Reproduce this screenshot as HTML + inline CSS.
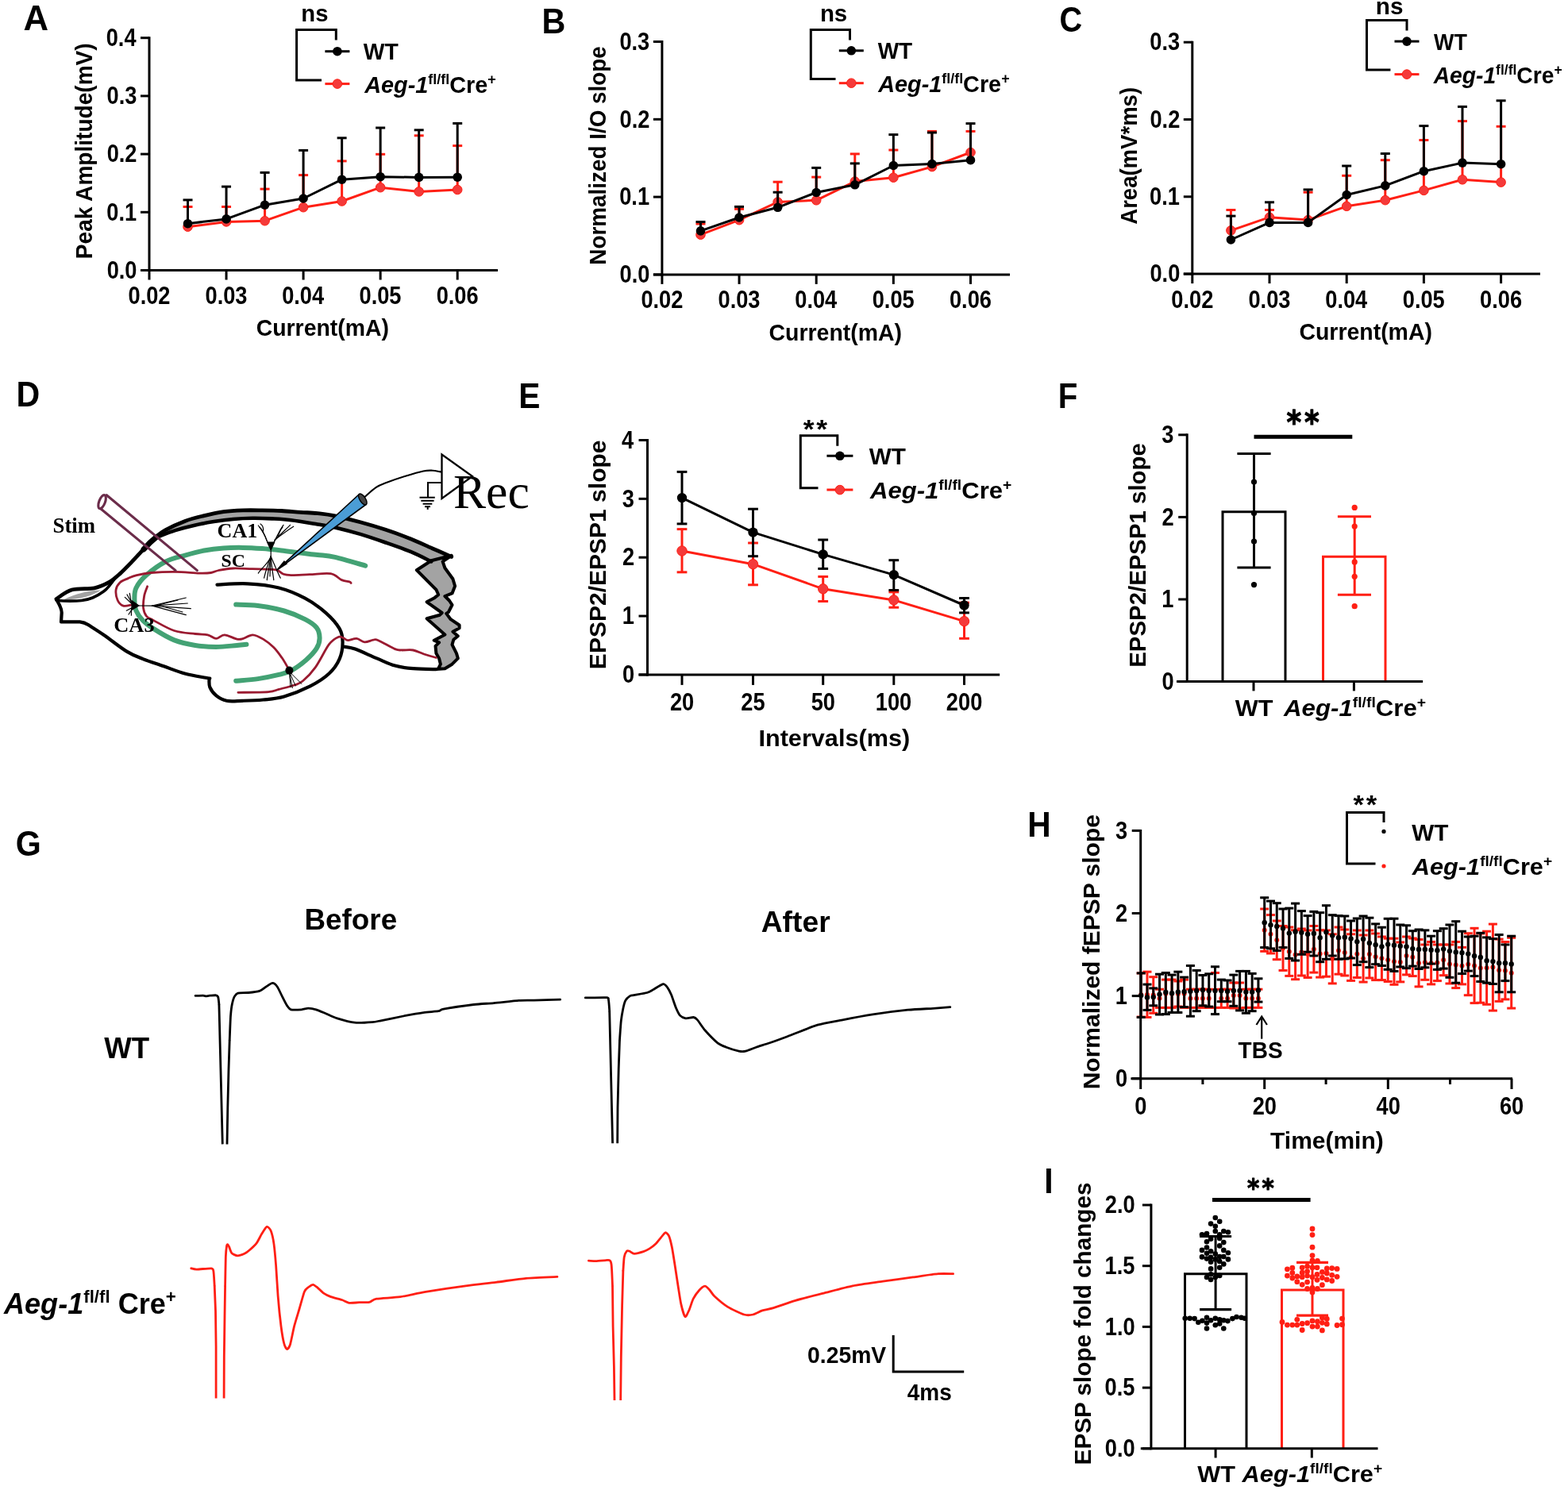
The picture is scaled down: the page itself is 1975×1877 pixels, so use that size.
<!DOCTYPE html><html><head><meta charset="utf-8"><style>html,body{margin:0;padding:0;background:#fff;}svg{display:block;}text{font-variant-ligatures:none;font-kerning:normal;}</style></head><body><svg xmlns="http://www.w3.org/2000/svg" width="1975" height="1877" viewBox="0 0 1975 1877"><rect x="0" y="0" width="1975" height="1877" fill="#fff"/>
<text transform="translate(29.51,38.10) scale(1.0053,1)" font-size="43.50" fill="#000" font-family="'Liberation Sans', Arial, sans-serif" font-weight="bold">A</text>
<text transform="translate(682.41,41.50) scale(0.9497,1)" font-size="43.50" fill="#000" font-family="'Liberation Sans', Arial, sans-serif" font-weight="bold">B</text>
<text transform="translate(1334.51,40.30) scale(0.9125,1)" font-size="43.50" fill="#000" font-family="'Liberation Sans', Arial, sans-serif" font-weight="bold">C</text>
<text transform="translate(20.42,511.90) scale(0.9458,1)" font-size="43.50" fill="#000" font-family="'Liberation Sans', Arial, sans-serif" font-weight="bold">D</text>
<text transform="translate(653.25,513.80) scale(0.9360,1)" font-size="43.50" fill="#000" font-family="'Liberation Sans', Arial, sans-serif" font-weight="bold">E</text>
<text transform="translate(1332.79,513.80) scale(0.9241,1)" font-size="43.50" fill="#000" font-family="'Liberation Sans', Arial, sans-serif" font-weight="bold">F</text>
<text transform="translate(19.75,1078.20) scale(0.9468,1)" font-size="43.50" fill="#000" font-family="'Liberation Sans', Arial, sans-serif" font-weight="bold">G</text>
<text transform="translate(1294.25,1053.80) scale(0.9352,1)" font-size="43.50" fill="#000" font-family="'Liberation Sans', Arial, sans-serif" font-weight="bold">H</text>
<text transform="translate(1315.15,1502.70) scale(0.9357,1)" font-size="43.50" fill="#000" font-family="'Liberation Sans', Arial, sans-serif" font-weight="bold">I</text>
<line x1="236.53" y1="285.7" x2="236.53" y2="260.5" stroke="#ff1f14" stroke-width="3" stroke-linecap="butt"/>
<line x1="230.53" y1="260.5" x2="242.53" y2="260.5" stroke="#ff1f14" stroke-width="3" stroke-linecap="butt"/>
<line x1="285.05" y1="279.4" x2="285.05" y2="260.5" stroke="#ff1f14" stroke-width="3" stroke-linecap="butt"/>
<line x1="279.05" y1="260.5" x2="291.05" y2="260.5" stroke="#ff1f14" stroke-width="3" stroke-linecap="butt"/>
<line x1="333.57" y1="278.2" x2="333.57" y2="238.1" stroke="#ff1f14" stroke-width="3" stroke-linecap="butt"/>
<line x1="327.57" y1="238.1" x2="339.57" y2="238.1" stroke="#ff1f14" stroke-width="3" stroke-linecap="butt"/>
<line x1="382.1" y1="261.2" x2="382.1" y2="220.6" stroke="#ff1f14" stroke-width="3" stroke-linecap="butt"/>
<line x1="376.1" y1="220.6" x2="388.1" y2="220.6" stroke="#ff1f14" stroke-width="3" stroke-linecap="butt"/>
<line x1="430.62" y1="253.5" x2="430.62" y2="202.9" stroke="#ff1f14" stroke-width="3" stroke-linecap="butt"/>
<line x1="424.62" y1="202.9" x2="436.62" y2="202.9" stroke="#ff1f14" stroke-width="3" stroke-linecap="butt"/>
<line x1="479.15" y1="236.2" x2="479.15" y2="194.3" stroke="#ff1f14" stroke-width="3" stroke-linecap="butt"/>
<line x1="473.15" y1="194.3" x2="485.15" y2="194.3" stroke="#ff1f14" stroke-width="3" stroke-linecap="butt"/>
<line x1="527.67" y1="241.4" x2="527.67" y2="170.8" stroke="#ff1f14" stroke-width="3" stroke-linecap="butt"/>
<line x1="521.67" y1="170.8" x2="533.67" y2="170.8" stroke="#ff1f14" stroke-width="3" stroke-linecap="butt"/>
<line x1="576.2" y1="239" x2="576.2" y2="183.6" stroke="#ff1f14" stroke-width="3" stroke-linecap="butt"/>
<line x1="570.2" y1="183.6" x2="582.2" y2="183.6" stroke="#ff1f14" stroke-width="3" stroke-linecap="butt"/>
<polyline points="236.53,285.7 285.05,279.4 333.57,278.2 382.1,261.2 430.62,253.5 479.15,236.2 527.67,241.4 576.2,239" fill="none" stroke="#ff1f14" stroke-width="3" stroke-linejoin="round"/>
<circle cx="236.53" cy="285.7" r="5.8" fill="#f43a3a" stroke="#ff1f14" stroke-width="1"/>
<circle cx="285.05" cy="279.4" r="5.8" fill="#f43a3a" stroke="#ff1f14" stroke-width="1"/>
<circle cx="333.57" cy="278.2" r="5.8" fill="#f43a3a" stroke="#ff1f14" stroke-width="1"/>
<circle cx="382.1" cy="261.2" r="5.8" fill="#f43a3a" stroke="#ff1f14" stroke-width="1"/>
<circle cx="430.62" cy="253.5" r="5.8" fill="#f43a3a" stroke="#ff1f14" stroke-width="1"/>
<circle cx="479.15" cy="236.2" r="5.8" fill="#f43a3a" stroke="#ff1f14" stroke-width="1"/>
<circle cx="527.67" cy="241.4" r="5.8" fill="#f43a3a" stroke="#ff1f14" stroke-width="1"/>
<circle cx="576.2" cy="239" r="5.8" fill="#f43a3a" stroke="#ff1f14" stroke-width="1"/>
<line x1="236.53" y1="281.7" x2="236.53" y2="251.9" stroke="#000" stroke-width="3" stroke-linecap="butt"/>
<line x1="230.53" y1="251.9" x2="242.53" y2="251.9" stroke="#000" stroke-width="3" stroke-linecap="butt"/>
<line x1="285.05" y1="275.9" x2="285.05" y2="235.1" stroke="#000" stroke-width="3" stroke-linecap="butt"/>
<line x1="279.05" y1="235.1" x2="291.05" y2="235.1" stroke="#000" stroke-width="3" stroke-linecap="butt"/>
<line x1="333.57" y1="258.2" x2="333.57" y2="217.4" stroke="#000" stroke-width="3" stroke-linecap="butt"/>
<line x1="327.57" y1="217.4" x2="339.57" y2="217.4" stroke="#000" stroke-width="3" stroke-linecap="butt"/>
<line x1="382.1" y1="250" x2="382.1" y2="189.4" stroke="#000" stroke-width="3" stroke-linecap="butt"/>
<line x1="376.1" y1="189.4" x2="388.1" y2="189.4" stroke="#000" stroke-width="3" stroke-linecap="butt"/>
<line x1="430.62" y1="226.2" x2="430.62" y2="173.8" stroke="#000" stroke-width="3" stroke-linecap="butt"/>
<line x1="424.62" y1="173.8" x2="436.62" y2="173.8" stroke="#000" stroke-width="3" stroke-linecap="butt"/>
<line x1="479.15" y1="222.7" x2="479.15" y2="161" stroke="#000" stroke-width="3" stroke-linecap="butt"/>
<line x1="473.15" y1="161" x2="485.15" y2="161" stroke="#000" stroke-width="3" stroke-linecap="butt"/>
<line x1="527.67" y1="223.4" x2="527.67" y2="163.8" stroke="#000" stroke-width="3" stroke-linecap="butt"/>
<line x1="521.67" y1="163.8" x2="533.67" y2="163.8" stroke="#000" stroke-width="3" stroke-linecap="butt"/>
<line x1="576.2" y1="223.2" x2="576.2" y2="155.4" stroke="#000" stroke-width="3" stroke-linecap="butt"/>
<line x1="570.2" y1="155.4" x2="582.2" y2="155.4" stroke="#000" stroke-width="3" stroke-linecap="butt"/>
<polyline points="236.53,281.7 285.05,275.9 333.57,258.2 382.1,250 430.62,226.2 479.15,222.7 527.67,223.4 576.2,223.2" fill="none" stroke="#000" stroke-width="3" stroke-linejoin="round"/>
<circle cx="236.53" cy="281.7" r="5.8" fill="#000"/>
<circle cx="285.05" cy="275.9" r="5.8" fill="#000"/>
<circle cx="333.57" cy="258.2" r="5.8" fill="#000"/>
<circle cx="382.1" cy="250" r="5.8" fill="#000"/>
<circle cx="430.62" cy="226.2" r="5.8" fill="#000"/>
<circle cx="479.15" cy="222.7" r="5.8" fill="#000"/>
<circle cx="527.67" cy="223.4" r="5.8" fill="#000"/>
<circle cx="576.2" cy="223.2" r="5.8" fill="#000"/>
<line x1="188" y1="46.2" x2="188" y2="342" stroke="#000" stroke-width="3" stroke-linecap="butt"/>
<line x1="177" y1="340.5" x2="188" y2="340.5" stroke="#000" stroke-width="3" stroke-linecap="butt"/>
<line x1="177" y1="267.3" x2="188" y2="267.3" stroke="#000" stroke-width="3" stroke-linecap="butt"/>
<line x1="177" y1="194.1" x2="188" y2="194.1" stroke="#000" stroke-width="3" stroke-linecap="butt"/>
<line x1="177" y1="120.9" x2="188" y2="120.9" stroke="#000" stroke-width="3" stroke-linecap="butt"/>
<line x1="177" y1="47.7" x2="188" y2="47.7" stroke="#000" stroke-width="3" stroke-linecap="butt"/>
<line x1="177" y1="340.5" x2="627" y2="340.5" stroke="#000" stroke-width="3" stroke-linecap="butt"/>
<line x1="188" y1="340.5" x2="188" y2="352.5" stroke="#000" stroke-width="3" stroke-linecap="butt"/>
<line x1="285.05" y1="340.5" x2="285.05" y2="352.5" stroke="#000" stroke-width="3" stroke-linecap="butt"/>
<line x1="382.1" y1="340.5" x2="382.1" y2="352.5" stroke="#000" stroke-width="3" stroke-linecap="butt"/>
<line x1="479.15" y1="340.5" x2="479.15" y2="352.5" stroke="#000" stroke-width="3" stroke-linecap="butt"/>
<line x1="576.2" y1="340.5" x2="576.2" y2="352.5" stroke="#000" stroke-width="3" stroke-linecap="butt"/>
<text transform="translate(134.63,350.70) scale(0.8900,1)" font-size="30.60" fill="#000" font-family="'Liberation Sans', Arial, sans-serif" font-weight="bold">0.0</text>
<text transform="translate(134.29,277.50) scale(0.8900,1)" font-size="30.60" fill="#000" font-family="'Liberation Sans', Arial, sans-serif" font-weight="bold">0.1</text>
<text transform="translate(134.63,204.30) scale(0.8900,1)" font-size="30.60" fill="#000" font-family="'Liberation Sans', Arial, sans-serif" font-weight="bold">0.2</text>
<text transform="translate(134.50,131.10) scale(0.8900,1)" font-size="30.60" fill="#000" font-family="'Liberation Sans', Arial, sans-serif" font-weight="bold">0.3</text>
<text transform="translate(133.68,57.90) scale(0.8900,1)" font-size="30.60" fill="#000" font-family="'Liberation Sans', Arial, sans-serif" font-weight="bold">0.4</text>
<text transform="translate(161.51,383.00) scale(0.8900,1)" font-size="30.60" fill="#000" font-family="'Liberation Sans', Arial, sans-serif" font-weight="bold">0.02</text>
<text transform="translate(258.50,383.00) scale(0.8900,1)" font-size="30.60" fill="#000" font-family="'Liberation Sans', Arial, sans-serif" font-weight="bold">0.03</text>
<text transform="translate(355.14,383.00) scale(0.8900,1)" font-size="30.60" fill="#000" font-family="'Liberation Sans', Arial, sans-serif" font-weight="bold">0.04</text>
<text transform="translate(452.49,383.00) scale(0.8900,1)" font-size="30.60" fill="#000" font-family="'Liberation Sans', Arial, sans-serif" font-weight="bold">0.05</text>
<text transform="translate(549.65,383.00) scale(0.8900,1)" font-size="30.60" fill="#000" font-family="'Liberation Sans', Arial, sans-serif" font-weight="bold">0.06</text>
<text transform="translate(322.66,423.10) scale(0.9481,1)" font-size="30.00" fill="#000" font-family="'Liberation Sans', Arial, sans-serif" font-weight="bold">Current(mA)</text>
<text transform="translate(116.40,326.19) rotate(-90) scale(0.9356,1)" font-size="30.00" font-family="'Liberation Sans', Arial, sans-serif" font-weight="bold">Peak Amplitude(mV)</text>
<polyline points="405,100.9 373.6,100.9 373.6,37.6 423.3,37.6 423.3,50.6" fill="none" stroke="#000" stroke-width="3" stroke-linejoin="miter"/>
<line x1="409.4" y1="64.7" x2="440.4" y2="64.7" stroke="#000" stroke-width="3" stroke-linecap="butt"/>
<circle cx="424.9" cy="64.7" r="5.8" fill="#000"/>
<line x1="409.4" y1="105.6" x2="440.4" y2="105.6" stroke="#ff1f14" stroke-width="3" stroke-linecap="butt"/>
<circle cx="424.9" cy="105.6" r="5.8" fill="#f43a3a" stroke="#ff1f14" stroke-width="1"/>
<text transform="translate(379.30,26.70) scale(0.9748,1)" font-size="30.00" fill="#000" font-family="'Liberation Sans', Arial, sans-serif" font-weight="bold">ns</text>
<text transform="translate(457.73,75.20) scale(0.9444,1)" font-size="30.00" fill="#000" font-family="'Liberation Sans', Arial, sans-serif" font-weight="bold">WT</text>
<text transform="translate(459.18,116.60) scale(0.9618,1)" font-size="30.00" fill="#000"><tspan font-family="'Liberation Sans', Arial, sans-serif" font-weight="bold" font-style="italic">Aeg-1</tspan><tspan font-family="'Liberation Sans', Arial, sans-serif" font-weight="bold" font-size="18.60" dy="-11.10">fl/fl</tspan><tspan font-family="'Liberation Sans', Arial, sans-serif" font-weight="bold" dy="11.10">Cre</tspan><tspan font-family="'Liberation Sans', Arial, sans-serif" font-weight="bold" font-size="18.60" dy="-11.10">+</tspan></text>
<line x1="882.48" y1="295.7" x2="882.48" y2="282" stroke="#ff1f14" stroke-width="3" stroke-linecap="butt"/>
<line x1="876.48" y1="282" x2="888.48" y2="282" stroke="#ff1f14" stroke-width="3" stroke-linecap="butt"/>
<line x1="931.05" y1="277.2" x2="931.05" y2="263.3" stroke="#ff1f14" stroke-width="3" stroke-linecap="butt"/>
<line x1="925.05" y1="263.3" x2="937.05" y2="263.3" stroke="#ff1f14" stroke-width="3" stroke-linecap="butt"/>
<line x1="979.62" y1="254.5" x2="979.62" y2="229.2" stroke="#ff1f14" stroke-width="3" stroke-linecap="butt"/>
<line x1="973.62" y1="229.2" x2="985.62" y2="229.2" stroke="#ff1f14" stroke-width="3" stroke-linecap="butt"/>
<line x1="1028.2" y1="252.3" x2="1028.2" y2="223.1" stroke="#ff1f14" stroke-width="3" stroke-linecap="butt"/>
<line x1="1022.2" y1="223.1" x2="1034.2" y2="223.1" stroke="#ff1f14" stroke-width="3" stroke-linecap="butt"/>
<line x1="1076.78" y1="228.6" x2="1076.78" y2="193.9" stroke="#ff1f14" stroke-width="3" stroke-linecap="butt"/>
<line x1="1070.78" y1="193.9" x2="1082.78" y2="193.9" stroke="#ff1f14" stroke-width="3" stroke-linecap="butt"/>
<line x1="1125.35" y1="223.7" x2="1125.35" y2="189" stroke="#ff1f14" stroke-width="3" stroke-linecap="butt"/>
<line x1="1119.35" y1="189" x2="1131.35" y2="189" stroke="#ff1f14" stroke-width="3" stroke-linecap="butt"/>
<line x1="1173.92" y1="210.1" x2="1173.92" y2="165.4" stroke="#ff1f14" stroke-width="3" stroke-linecap="butt"/>
<line x1="1167.92" y1="165.4" x2="1179.92" y2="165.4" stroke="#ff1f14" stroke-width="3" stroke-linecap="butt"/>
<line x1="1222.5" y1="192" x2="1222.5" y2="165.4" stroke="#ff1f14" stroke-width="3" stroke-linecap="butt"/>
<line x1="1216.5" y1="165.4" x2="1228.5" y2="165.4" stroke="#ff1f14" stroke-width="3" stroke-linecap="butt"/>
<polyline points="882.48,295.7 931.05,277.2 979.62,254.5 1028.2,252.3 1076.78,228.6 1125.35,223.7 1173.92,210.1 1222.5,192" fill="none" stroke="#ff1f14" stroke-width="3" stroke-linejoin="round"/>
<circle cx="882.48" cy="295.7" r="5.8" fill="#f43a3a" stroke="#ff1f14" stroke-width="1"/>
<circle cx="931.05" cy="277.2" r="5.8" fill="#f43a3a" stroke="#ff1f14" stroke-width="1"/>
<circle cx="979.62" cy="254.5" r="5.8" fill="#f43a3a" stroke="#ff1f14" stroke-width="1"/>
<circle cx="1028.2" cy="252.3" r="5.8" fill="#f43a3a" stroke="#ff1f14" stroke-width="1"/>
<circle cx="1076.78" cy="228.6" r="5.8" fill="#f43a3a" stroke="#ff1f14" stroke-width="1"/>
<circle cx="1125.35" cy="223.7" r="5.8" fill="#f43a3a" stroke="#ff1f14" stroke-width="1"/>
<circle cx="1173.92" cy="210.1" r="5.8" fill="#f43a3a" stroke="#ff1f14" stroke-width="1"/>
<circle cx="1222.5" cy="192" r="5.8" fill="#f43a3a" stroke="#ff1f14" stroke-width="1"/>
<line x1="882.48" y1="290.9" x2="882.48" y2="279.5" stroke="#000" stroke-width="3" stroke-linecap="butt"/>
<line x1="876.48" y1="279.5" x2="888.48" y2="279.5" stroke="#000" stroke-width="3" stroke-linecap="butt"/>
<line x1="931.05" y1="274" x2="931.05" y2="260.4" stroke="#000" stroke-width="3" stroke-linecap="butt"/>
<line x1="925.05" y1="260.4" x2="937.05" y2="260.4" stroke="#000" stroke-width="3" stroke-linecap="butt"/>
<line x1="979.62" y1="261.3" x2="979.62" y2="242.2" stroke="#000" stroke-width="3" stroke-linecap="butt"/>
<line x1="973.62" y1="242.2" x2="985.62" y2="242.2" stroke="#000" stroke-width="3" stroke-linecap="butt"/>
<line x1="1028.2" y1="242.5" x2="1028.2" y2="211.4" stroke="#000" stroke-width="3" stroke-linecap="butt"/>
<line x1="1022.2" y1="211.4" x2="1034.2" y2="211.4" stroke="#000" stroke-width="3" stroke-linecap="butt"/>
<line x1="1076.78" y1="232.8" x2="1076.78" y2="205.9" stroke="#000" stroke-width="3" stroke-linecap="butt"/>
<line x1="1070.78" y1="205.9" x2="1082.78" y2="205.9" stroke="#000" stroke-width="3" stroke-linecap="butt"/>
<line x1="1125.35" y1="208.5" x2="1125.35" y2="169.6" stroke="#000" stroke-width="3" stroke-linecap="butt"/>
<line x1="1119.35" y1="169.6" x2="1131.35" y2="169.6" stroke="#000" stroke-width="3" stroke-linecap="butt"/>
<line x1="1173.92" y1="206.5" x2="1173.92" y2="167" stroke="#000" stroke-width="3" stroke-linecap="butt"/>
<line x1="1167.92" y1="167" x2="1179.92" y2="167" stroke="#000" stroke-width="3" stroke-linecap="butt"/>
<line x1="1222.5" y1="201.7" x2="1222.5" y2="155.6" stroke="#000" stroke-width="3" stroke-linecap="butt"/>
<line x1="1216.5" y1="155.6" x2="1228.5" y2="155.6" stroke="#000" stroke-width="3" stroke-linecap="butt"/>
<polyline points="882.48,290.9 931.05,274 979.62,261.3 1028.2,242.5 1076.78,232.8 1125.35,208.5 1173.92,206.5 1222.5,201.7" fill="none" stroke="#000" stroke-width="3" stroke-linejoin="round"/>
<circle cx="882.48" cy="290.9" r="5.8" fill="#000"/>
<circle cx="931.05" cy="274" r="5.8" fill="#000"/>
<circle cx="979.62" cy="261.3" r="5.8" fill="#000"/>
<circle cx="1028.2" cy="242.5" r="5.8" fill="#000"/>
<circle cx="1076.78" cy="232.8" r="5.8" fill="#000"/>
<circle cx="1125.35" cy="208.5" r="5.8" fill="#000"/>
<circle cx="1173.92" cy="206.5" r="5.8" fill="#000"/>
<circle cx="1222.5" cy="201.7" r="5.8" fill="#000"/>
<line x1="833.9" y1="51" x2="833.9" y2="347.4" stroke="#000" stroke-width="3" stroke-linecap="butt"/>
<line x1="822.9" y1="345.9" x2="833.9" y2="345.9" stroke="#000" stroke-width="3" stroke-linecap="butt"/>
<line x1="822.9" y1="248.1" x2="833.9" y2="248.1" stroke="#000" stroke-width="3" stroke-linecap="butt"/>
<line x1="822.9" y1="150.3" x2="833.9" y2="150.3" stroke="#000" stroke-width="3" stroke-linecap="butt"/>
<line x1="822.9" y1="52.5" x2="833.9" y2="52.5" stroke="#000" stroke-width="3" stroke-linecap="butt"/>
<line x1="822.9" y1="345.9" x2="1272" y2="345.9" stroke="#000" stroke-width="3" stroke-linecap="butt"/>
<line x1="833.9" y1="345.9" x2="833.9" y2="357.9" stroke="#000" stroke-width="3" stroke-linecap="butt"/>
<line x1="931.05" y1="345.9" x2="931.05" y2="357.9" stroke="#000" stroke-width="3" stroke-linecap="butt"/>
<line x1="1028.2" y1="345.9" x2="1028.2" y2="357.9" stroke="#000" stroke-width="3" stroke-linecap="butt"/>
<line x1="1125.35" y1="345.9" x2="1125.35" y2="357.9" stroke="#000" stroke-width="3" stroke-linecap="butt"/>
<line x1="1222.5" y1="345.9" x2="1222.5" y2="357.9" stroke="#000" stroke-width="3" stroke-linecap="butt"/>
<text transform="translate(780.53,356.10) scale(0.8900,1)" font-size="30.60" fill="#000" font-family="'Liberation Sans', Arial, sans-serif" font-weight="bold">0.0</text>
<text transform="translate(780.19,258.30) scale(0.8900,1)" font-size="30.60" fill="#000" font-family="'Liberation Sans', Arial, sans-serif" font-weight="bold">0.1</text>
<text transform="translate(780.53,160.50) scale(0.8900,1)" font-size="30.60" fill="#000" font-family="'Liberation Sans', Arial, sans-serif" font-weight="bold">0.2</text>
<text transform="translate(780.40,62.70) scale(0.8900,1)" font-size="30.60" fill="#000" font-family="'Liberation Sans', Arial, sans-serif" font-weight="bold">0.3</text>
<text transform="translate(807.41,388.40) scale(0.8900,1)" font-size="30.60" fill="#000" font-family="'Liberation Sans', Arial, sans-serif" font-weight="bold">0.02</text>
<text transform="translate(904.50,388.40) scale(0.8900,1)" font-size="30.60" fill="#000" font-family="'Liberation Sans', Arial, sans-serif" font-weight="bold">0.03</text>
<text transform="translate(1001.24,388.40) scale(0.8900,1)" font-size="30.60" fill="#000" font-family="'Liberation Sans', Arial, sans-serif" font-weight="bold">0.04</text>
<text transform="translate(1098.69,388.40) scale(0.8900,1)" font-size="30.60" fill="#000" font-family="'Liberation Sans', Arial, sans-serif" font-weight="bold">0.05</text>
<text transform="translate(1195.95,388.40) scale(0.8900,1)" font-size="30.60" fill="#000" font-family="'Liberation Sans', Arial, sans-serif" font-weight="bold">0.06</text>
<text transform="translate(968.56,428.50) scale(0.9481,1)" font-size="30.00" fill="#000" font-family="'Liberation Sans', Arial, sans-serif" font-weight="bold">Current(mA)</text>
<text transform="translate(763.40,333.68) rotate(-90) scale(0.9288,1)" font-size="30.00" font-family="'Liberation Sans', Arial, sans-serif" font-weight="bold">Normalized I/O slope</text>
<polyline points="1052.5,99.4 1021.3,99.4 1021.3,37.6 1070.5,37.6 1070.5,50.6" fill="none" stroke="#000" stroke-width="3" stroke-linejoin="miter"/>
<line x1="1056.8" y1="63.8" x2="1087.8" y2="63.8" stroke="#000" stroke-width="3" stroke-linecap="butt"/>
<circle cx="1072.3" cy="63.8" r="5.8" fill="#000"/>
<line x1="1056.8" y1="104.7" x2="1087.8" y2="104.7" stroke="#ff1f14" stroke-width="3" stroke-linecap="butt"/>
<circle cx="1072.3" cy="104.7" r="5.8" fill="#f43a3a" stroke="#ff1f14" stroke-width="1"/>
<text transform="translate(1032.89,27.00) scale(0.9811,1)" font-size="30.00" fill="#000" font-family="'Liberation Sans', Arial, sans-serif" font-weight="bold">ns</text>
<text transform="translate(1105.63,74.30) scale(0.9335,1)" font-size="30.00" fill="#000" font-family="'Liberation Sans', Arial, sans-serif" font-weight="bold">WT</text>
<text transform="translate(1106.28,115.70) scale(0.9606,1)" font-size="30.00" fill="#000"><tspan font-family="'Liberation Sans', Arial, sans-serif" font-weight="bold" font-style="italic">Aeg-1</tspan><tspan font-family="'Liberation Sans', Arial, sans-serif" font-weight="bold" font-size="18.60" dy="-11.10">fl/fl</tspan><tspan font-family="'Liberation Sans', Arial, sans-serif" font-weight="bold" dy="11.10">Cre</tspan><tspan font-family="'Liberation Sans', Arial, sans-serif" font-weight="bold" font-size="18.60" dy="-11.10">+</tspan></text>
<line x1="1550.4" y1="290.3" x2="1550.4" y2="264.5" stroke="#ff1f14" stroke-width="3" stroke-linecap="butt"/>
<line x1="1544.4" y1="264.5" x2="1556.4" y2="264.5" stroke="#ff1f14" stroke-width="3" stroke-linecap="butt"/>
<line x1="1599" y1="273.7" x2="1599" y2="264.5" stroke="#ff1f14" stroke-width="3" stroke-linecap="butt"/>
<line x1="1593" y1="264.5" x2="1605" y2="264.5" stroke="#ff1f14" stroke-width="3" stroke-linecap="butt"/>
<line x1="1647.6" y1="277.1" x2="1647.6" y2="242.2" stroke="#ff1f14" stroke-width="3" stroke-linecap="butt"/>
<line x1="1641.6" y1="242.2" x2="1653.6" y2="242.2" stroke="#ff1f14" stroke-width="3" stroke-linecap="butt"/>
<line x1="1696.2" y1="259.8" x2="1696.2" y2="221.3" stroke="#ff1f14" stroke-width="3" stroke-linecap="butt"/>
<line x1="1690.2" y1="221.3" x2="1702.2" y2="221.3" stroke="#ff1f14" stroke-width="3" stroke-linecap="butt"/>
<line x1="1744.8" y1="252.2" x2="1744.8" y2="201.7" stroke="#ff1f14" stroke-width="3" stroke-linecap="butt"/>
<line x1="1738.8" y1="201.7" x2="1750.8" y2="201.7" stroke="#ff1f14" stroke-width="3" stroke-linecap="butt"/>
<line x1="1793.4" y1="239.9" x2="1793.4" y2="176.5" stroke="#ff1f14" stroke-width="3" stroke-linecap="butt"/>
<line x1="1787.4" y1="176.5" x2="1799.4" y2="176.5" stroke="#ff1f14" stroke-width="3" stroke-linecap="butt"/>
<line x1="1842" y1="226.3" x2="1842" y2="152.6" stroke="#ff1f14" stroke-width="3" stroke-linecap="butt"/>
<line x1="1836" y1="152.6" x2="1848" y2="152.6" stroke="#ff1f14" stroke-width="3" stroke-linecap="butt"/>
<line x1="1890.6" y1="229.6" x2="1890.6" y2="159.3" stroke="#ff1f14" stroke-width="3" stroke-linecap="butt"/>
<line x1="1884.6" y1="159.3" x2="1896.6" y2="159.3" stroke="#ff1f14" stroke-width="3" stroke-linecap="butt"/>
<polyline points="1550.4,290.3 1599,273.7 1647.6,277.1 1696.2,259.8 1744.8,252.2 1793.4,239.9 1842,226.3 1890.6,229.6" fill="none" stroke="#ff1f14" stroke-width="3" stroke-linejoin="round"/>
<circle cx="1550.4" cy="290.3" r="5.8" fill="#f43a3a" stroke="#ff1f14" stroke-width="1"/>
<circle cx="1599" cy="273.7" r="5.8" fill="#f43a3a" stroke="#ff1f14" stroke-width="1"/>
<circle cx="1647.6" cy="277.1" r="5.8" fill="#f43a3a" stroke="#ff1f14" stroke-width="1"/>
<circle cx="1696.2" cy="259.8" r="5.8" fill="#f43a3a" stroke="#ff1f14" stroke-width="1"/>
<circle cx="1744.8" cy="252.2" r="5.8" fill="#f43a3a" stroke="#ff1f14" stroke-width="1"/>
<circle cx="1793.4" cy="239.9" r="5.8" fill="#f43a3a" stroke="#ff1f14" stroke-width="1"/>
<circle cx="1842" cy="226.3" r="5.8" fill="#f43a3a" stroke="#ff1f14" stroke-width="1"/>
<circle cx="1890.6" cy="229.6" r="5.8" fill="#f43a3a" stroke="#ff1f14" stroke-width="1"/>
<line x1="1550.4" y1="302" x2="1550.4" y2="272.1" stroke="#000" stroke-width="3" stroke-linecap="butt"/>
<line x1="1544.4" y1="272.1" x2="1556.4" y2="272.1" stroke="#000" stroke-width="3" stroke-linecap="butt"/>
<line x1="1599" y1="280.4" x2="1599" y2="254.8" stroke="#000" stroke-width="3" stroke-linecap="butt"/>
<line x1="1593" y1="254.8" x2="1605" y2="254.8" stroke="#000" stroke-width="3" stroke-linecap="butt"/>
<line x1="1647.6" y1="280.4" x2="1647.6" y2="238.9" stroke="#000" stroke-width="3" stroke-linecap="butt"/>
<line x1="1641.6" y1="238.9" x2="1653.6" y2="238.9" stroke="#000" stroke-width="3" stroke-linecap="butt"/>
<line x1="1696.2" y1="245.5" x2="1696.2" y2="209" stroke="#000" stroke-width="3" stroke-linecap="butt"/>
<line x1="1690.2" y1="209" x2="1702.2" y2="209" stroke="#000" stroke-width="3" stroke-linecap="butt"/>
<line x1="1744.8" y1="233.9" x2="1744.8" y2="193.5" stroke="#000" stroke-width="3" stroke-linecap="butt"/>
<line x1="1738.8" y1="193.5" x2="1750.8" y2="193.5" stroke="#000" stroke-width="3" stroke-linecap="butt"/>
<line x1="1793.4" y1="215.7" x2="1793.4" y2="158.6" stroke="#000" stroke-width="3" stroke-linecap="butt"/>
<line x1="1787.4" y1="158.6" x2="1799.4" y2="158.6" stroke="#000" stroke-width="3" stroke-linecap="butt"/>
<line x1="1842" y1="205.1" x2="1842" y2="134.4" stroke="#000" stroke-width="3" stroke-linecap="butt"/>
<line x1="1836" y1="134.4" x2="1848" y2="134.4" stroke="#000" stroke-width="3" stroke-linecap="butt"/>
<line x1="1890.6" y1="206.7" x2="1890.6" y2="126.8" stroke="#000" stroke-width="3" stroke-linecap="butt"/>
<line x1="1884.6" y1="126.8" x2="1896.6" y2="126.8" stroke="#000" stroke-width="3" stroke-linecap="butt"/>
<polyline points="1550.4,302 1599,280.4 1647.6,280.4 1696.2,245.5 1744.8,233.9 1793.4,215.7 1842,205.1 1890.6,206.7" fill="none" stroke="#000" stroke-width="3" stroke-linejoin="round"/>
<circle cx="1550.4" cy="302" r="5.8" fill="#000"/>
<circle cx="1599" cy="280.4" r="5.8" fill="#000"/>
<circle cx="1647.6" cy="280.4" r="5.8" fill="#000"/>
<circle cx="1696.2" cy="245.5" r="5.8" fill="#000"/>
<circle cx="1744.8" cy="233.9" r="5.8" fill="#000"/>
<circle cx="1793.4" cy="215.7" r="5.8" fill="#000"/>
<circle cx="1842" cy="205.1" r="5.8" fill="#000"/>
<circle cx="1890.6" cy="206.7" r="5.8" fill="#000"/>
<line x1="1501.8" y1="51.7" x2="1501.8" y2="346.6" stroke="#000" stroke-width="3" stroke-linecap="butt"/>
<line x1="1490.8" y1="345.1" x2="1501.8" y2="345.1" stroke="#000" stroke-width="3" stroke-linecap="butt"/>
<line x1="1490.8" y1="247.8" x2="1501.8" y2="247.8" stroke="#000" stroke-width="3" stroke-linecap="butt"/>
<line x1="1490.8" y1="150.5" x2="1501.8" y2="150.5" stroke="#000" stroke-width="3" stroke-linecap="butt"/>
<line x1="1490.8" y1="53.2" x2="1501.8" y2="53.2" stroke="#000" stroke-width="3" stroke-linecap="butt"/>
<line x1="1490.8" y1="345.1" x2="1940" y2="345.1" stroke="#000" stroke-width="3" stroke-linecap="butt"/>
<line x1="1501.8" y1="345.1" x2="1501.8" y2="357.1" stroke="#000" stroke-width="3" stroke-linecap="butt"/>
<line x1="1599" y1="345.1" x2="1599" y2="357.1" stroke="#000" stroke-width="3" stroke-linecap="butt"/>
<line x1="1696.2" y1="345.1" x2="1696.2" y2="357.1" stroke="#000" stroke-width="3" stroke-linecap="butt"/>
<line x1="1793.4" y1="345.1" x2="1793.4" y2="357.1" stroke="#000" stroke-width="3" stroke-linecap="butt"/>
<line x1="1890.6" y1="345.1" x2="1890.6" y2="357.1" stroke="#000" stroke-width="3" stroke-linecap="butt"/>
<text transform="translate(1448.43,355.30) scale(0.8900,1)" font-size="30.60" fill="#000" font-family="'Liberation Sans', Arial, sans-serif" font-weight="bold">0.0</text>
<text transform="translate(1448.09,258.00) scale(0.8900,1)" font-size="30.60" fill="#000" font-family="'Liberation Sans', Arial, sans-serif" font-weight="bold">0.1</text>
<text transform="translate(1448.43,160.70) scale(0.8900,1)" font-size="30.60" fill="#000" font-family="'Liberation Sans', Arial, sans-serif" font-weight="bold">0.2</text>
<text transform="translate(1448.30,63.40) scale(0.8900,1)" font-size="30.60" fill="#000" font-family="'Liberation Sans', Arial, sans-serif" font-weight="bold">0.3</text>
<text transform="translate(1475.31,387.60) scale(0.8900,1)" font-size="30.60" fill="#000" font-family="'Liberation Sans', Arial, sans-serif" font-weight="bold">0.02</text>
<text transform="translate(1572.45,387.60) scale(0.8900,1)" font-size="30.60" fill="#000" font-family="'Liberation Sans', Arial, sans-serif" font-weight="bold">0.03</text>
<text transform="translate(1669.24,387.60) scale(0.8900,1)" font-size="30.60" fill="#000" font-family="'Liberation Sans', Arial, sans-serif" font-weight="bold">0.04</text>
<text transform="translate(1766.74,387.60) scale(0.8900,1)" font-size="30.60" fill="#000" font-family="'Liberation Sans', Arial, sans-serif" font-weight="bold">0.05</text>
<text transform="translate(1864.05,387.60) scale(0.8900,1)" font-size="30.60" fill="#000" font-family="'Liberation Sans', Arial, sans-serif" font-weight="bold">0.06</text>
<text transform="translate(1636.46,427.70) scale(0.9481,1)" font-size="30.00" fill="#000" font-family="'Liberation Sans', Arial, sans-serif" font-weight="bold">Current(mA)</text>
<text transform="translate(1431.70,282.69) rotate(-90) scale(0.9175,1)" font-size="30.00" font-family="'Liberation Sans', Arial, sans-serif" font-weight="bold">Area(mV*ms)</text>
<polyline points="1751.4,87.9 1721.5,87.9 1721.5,25.5 1772,25.5 1772,38.5" fill="none" stroke="#000" stroke-width="3" stroke-linejoin="miter"/>
<line x1="1756.5" y1="52.1" x2="1787.5" y2="52.1" stroke="#000" stroke-width="3" stroke-linecap="butt"/>
<circle cx="1772" cy="52.1" r="5.8" fill="#000"/>
<line x1="1756.5" y1="93.6" x2="1787.5" y2="93.6" stroke="#ff1f14" stroke-width="3" stroke-linecap="butt"/>
<circle cx="1772" cy="93.6" r="5.8" fill="#f43a3a" stroke="#ff1f14" stroke-width="1"/>
<text transform="translate(1732.87,18.20) scale(0.9906,1)" font-size="30.00" fill="#000" font-family="'Liberation Sans', Arial, sans-serif" font-weight="bold">ns</text>
<text transform="translate(1806.03,62.60) scale(0.8968,1)" font-size="30.00" fill="#000" font-family="'Liberation Sans', Arial, sans-serif" font-weight="bold">WT</text>
<text transform="translate(1805.66,104.60) scale(0.9414,1)" font-size="30.00" fill="#000"><tspan font-family="'Liberation Sans', Arial, sans-serif" font-weight="bold" font-style="italic">Aeg-1</tspan><tspan font-family="'Liberation Sans', Arial, sans-serif" font-weight="bold" font-size="18.60" dy="-11.10">fl/fl</tspan><tspan font-family="'Liberation Sans', Arial, sans-serif" font-weight="bold" dy="11.10">Cre</tspan><tspan font-family="'Liberation Sans', Arial, sans-serif" font-weight="bold" font-size="18.60" dy="-11.10">+</tspan></text>
<path d="M208.6,667.7 C212.7,665.8 224.9,659.4 233.0,656.4 C241.1,653.4 249.2,651.5 257.3,649.6 C265.4,647.7 273.5,645.8 281.6,644.7 C289.7,643.6 297.8,643.2 305.9,642.9 C314.0,642.6 322.1,642.8 330.2,642.9 C338.3,643.0 346.4,643.1 354.5,643.5 C362.6,643.9 371.2,644.8 378.8,645.3 C386.4,645.8 392.8,645.9 400.0,646.6 C407.2,647.4 412.9,647.9 421.9,649.8 C430.9,651.7 443.2,654.9 453.8,657.8 C464.4,660.7 475.0,663.8 485.7,667.3 C496.4,670.8 507.9,675.1 517.7,679.0 C527.5,682.9 535.8,687.0 544.3,690.7 C552.8,694.4 566.4,698.9 568.7,701.4 C571.0,703.9 562.2,704.5 558.0,705.5 C553.8,706.5 549.9,709.1 543.2,707.4 C536.5,705.7 527.3,699.2 517.7,695.2 C508.1,691.2 496.4,687.2 485.7,683.5 C475.0,679.8 464.4,676.1 453.8,672.9 C443.2,669.7 430.9,666.5 421.9,664.4 C412.9,662.3 409.2,661.9 400.0,660.4 C390.8,658.9 376.3,656.4 366.7,655.2 C357.1,654.0 350.5,653.8 342.4,653.4 C334.3,653.0 326.1,652.7 318.0,652.8 C309.9,652.9 301.8,653.3 293.7,654.0 C285.6,654.7 277.5,655.8 269.4,657.1 C261.3,658.4 253.2,659.9 245.1,661.7 C237.0,663.5 227.9,665.9 220.8,668.1 C213.7,670.3 207.1,673.0 202.6,674.8 C198.1,676.5 195.4,678.0 194.0,678.6 Z" fill="#a3a3a3" stroke="none"/>
<path d="M80,755.5 C95,748 110,744 126.9,743.5 C118,750 100,755.5 80,755.5 Z" fill="#a3a3a3"/>
<path d="M543.2,706.2 L524.8,718.2 L549.4,742.8 L552.2,749.2 L547.6,752.9 L537.6,758.3 L556.7,772 L554,774.7 L537.6,779.3 L560.4,799.4 L546.7,806.7 L553.1,809.4 L548.5,813.9 L549.4,823.1 L553.1,829.4 L554.9,836.7 L552.2,842.2 L549.4,843.1 L560.4,842.2 L569.5,836.7 L576.8,829.4 L575,823.1 L569.5,812.1 L571.3,805.7 L576.8,801.2 L570.4,795.7 L578.6,791.2 L578.6,787.5 L567.7,780.2 L562.2,772.9 L564.9,771.1 L569.5,762 L565.9,756.5 L560.4,751 L569.5,747.4 L573.1,738.3 L570.4,729.2 L560.4,715.5 L557.6,707.3 L568.7,699.8 Z" fill="#a3a3a3" stroke="#000" stroke-width="4" stroke-linejoin="round"/>
<path d="M71.0,754.5 C74.2,752.6 82.4,745.3 90.4,743.0 C98.4,740.7 111.0,742.3 118.8,740.8 C126.6,739.2 131.6,736.7 137.0,733.7 C142.4,730.7 146.3,727.0 151.2,722.6 C156.1,718.2 161.3,712.6 166.4,707.4 C171.5,702.1 177.0,695.9 181.6,691.1 C186.2,686.3 189.5,682.3 194.0,678.4 C198.5,674.5 202.1,671.4 208.6,667.7 C215.1,664.0 224.9,659.4 233.0,656.4 C241.1,653.4 249.2,651.5 257.3,649.6 C265.4,647.7 273.5,645.8 281.6,644.7 C289.7,643.6 297.8,643.2 305.9,642.9 C314.0,642.6 322.1,642.8 330.2,642.9 C338.3,643.0 346.4,643.1 354.5,643.5 C362.6,643.9 371.2,644.8 378.8,645.3 C386.4,645.8 392.8,645.9 400.0,646.6 C407.2,647.4 412.9,647.9 421.9,649.8 C430.9,651.7 443.2,654.9 453.8,657.8 C464.4,660.7 475.0,663.8 485.7,667.3 C496.4,670.8 507.9,675.1 517.7,679.0 C527.5,682.9 535.8,687.0 544.3,690.7 C552.8,694.4 564.6,699.6 568.7,701.4" fill="none" stroke="#000" stroke-width="4.8" stroke-linecap="round"/>
<path d="M543.2,707.4 C539.0,705.4 527.3,699.2 517.7,695.2 C508.1,691.2 496.4,687.2 485.7,683.5 C475.0,679.8 464.4,676.1 453.8,672.9 C443.2,669.7 430.9,666.5 421.9,664.4 C412.9,662.3 409.2,661.9 400.0,660.4 C390.8,658.9 376.3,656.4 366.7,655.2 C357.1,654.0 350.5,653.8 342.4,653.4 C334.3,653.0 326.1,652.7 318.0,652.8 C309.9,652.9 301.8,653.3 293.7,654.0 C285.6,654.7 277.5,655.8 269.4,657.1 C261.3,658.4 253.2,659.9 245.1,661.7 C237.0,663.5 227.9,665.9 220.8,668.1 C213.7,670.3 207.1,673.0 202.6,674.8 C198.1,676.5 195.4,678.0 194.0,678.6" fill="none" stroke="#000" stroke-width="4.6" stroke-linecap="round"/>
<path d="M181,692 C186,686 190,682 197,676.5" stroke="#000" stroke-width="7" fill="none" stroke-linecap="round"/>
<path d="M71.0,756.0 C72.5,756.2 75.0,756.9 80.3,757.0 C85.6,757.1 96.5,757.2 102.6,756.5 C108.7,755.8 112.0,755.0 116.7,753.0 C121.4,751.0 127.4,747.4 130.9,744.8 C134.5,742.2 135.5,740.5 138.0,737.5 C140.5,734.5 144.7,728.8 146.0,727.0" fill="none" stroke="#000" stroke-width="3.6" stroke-linecap="round"/>
<path d="M71,755 L73.5,759.5 C76,764 77.8,768 77.7,772 L77,783.3 L100.5,783.3 C105,783.8 108,785 111,787  C114.3,789.2 122.8,794.4 130.9,800.0 C139.0,805.6 151.4,815.6 159.6,820.6 C167.8,825.6 172.2,827.0 180.0,830.1 C187.8,833.2 197.5,836.2 206.3,839.3 C215.1,842.4 223.9,846.1 232.7,848.5 C241.5,850.9 253.7,852.8 259.0,853.8 C264.3,854.8 263.4,854.4 264.3,854.5" fill="none" stroke="#000" stroke-width="4.2" stroke-linejoin="round" stroke-linecap="round"/>
<path d="M273.5,736.6 C279.9,736.4 298.8,734.6 311.7,735.3 C324.6,735.9 339.1,737.4 351.2,740.5 C363.3,743.6 374.3,748.4 384.2,753.7 C394.1,759.0 403.3,765.7 410.5,772.1 C417.7,778.5 424.1,785.8 427.6,791.9 C431.1,798.0 431.6,802.6 431.6,809.0 C431.6,815.4 430.5,823.5 427.6,830.1 C424.8,836.7 420.6,842.8 414.5,848.5 C408.4,854.2 400.1,859.6 390.7,864.4 C381.2,869.2 367.7,874.6 357.8,877.5 C347.9,880.4 340.3,880.6 331.5,881.5 C322.7,882.4 312.8,882.6 305.1,882.8 C297.4,883.0 290.9,883.9 285.4,882.8 C279.9,881.7 275.7,879.1 272.2,876.2 C268.7,873.4 265.8,869.2 264.3,865.7 C262.9,862.2 263.6,856.8 263.5,855.0" fill="none" stroke="#000" stroke-width="4.2" stroke-linecap="round"/>
<path d="M432.5,814.5 C435.0,815.0 440.3,815.1 447.3,817.6 C454.3,820.1 466.3,825.9 474.7,829.4 C483.1,832.9 489.9,836.5 497.5,838.6 C505.1,840.7 511.6,841.5 520.3,842.2 C528.9,843.0 544.5,843.0 549.4,843.1" fill="none" stroke="#000" stroke-width="4.2" stroke-linecap="round"/>
<path d="M460.2,712.6 C453.8,710.8 431.9,704.2 421.9,701.9 C411.9,699.6 407.2,699.9 400.0,699.0 C392.8,698.1 386.4,697.5 378.8,696.6 C371.2,695.7 362.6,694.4 354.5,693.5 C346.4,692.6 338.3,691.7 330.2,691.1 C322.1,690.5 314.0,690.0 305.9,689.9 C297.8,689.8 289.7,689.9 281.6,690.5 C273.5,691.1 265.4,692.0 257.3,693.5 C249.2,695.0 241.1,697.3 233.0,699.6 C224.9,701.9 216.7,703.3 208.6,707.5 C200.5,711.7 190.5,719.1 184.3,724.6 C178.1,730.1 173.9,735.6 171.4,740.8 C168.9,746.0 169.4,751.3 169.4,756.0 C169.4,760.7 169.7,765.0 171.4,769.2 C173.1,773.4 176.0,777.5 179.6,781.3 C183.2,785.1 186.5,787.7 193.2,791.9 C199.8,796.1 210.7,802.9 219.5,806.4 C228.3,809.9 237.1,811.6 245.9,813.0 C254.7,814.4 263.4,815.0 272.2,815.0 C281.0,815.0 292.1,813.5 298.5,813.0 C304.9,812.5 308.4,811.9 310.4,811.7" fill="none" stroke="#43a274" stroke-width="6" stroke-linecap="round"/>
<path d="M297.2,761.6 C301.8,761.8 314.8,761.6 324.9,762.9 C335.0,764.2 347.9,766.6 357.8,769.5 C367.7,772.4 377.4,776.6 384.2,780.1 C391.0,783.6 395.6,786.7 398.7,790.6 C401.8,794.5 402.6,799.4 402.6,803.8 C402.6,808.2 401.6,812.3 398.7,816.9 C395.8,821.5 390.8,826.8 385.5,831.4 C380.2,836.0 372.7,841.5 367.0,844.6 C361.3,847.7 358.2,848.1 351.2,849.9 C344.2,851.6 333.9,853.8 324.9,855.1 C315.9,856.4 301.8,857.3 297.2,857.8" fill="none" stroke="#43a274" stroke-width="6" stroke-linecap="round"/>
<path d="M165.4,762.1 C163.7,762.3 158.1,764.1 155.2,763.1 C152.3,762.1 149.6,759.4 148.1,756.0 C146.6,752.6 145.6,746.5 146.1,742.8 C146.6,739.1 148.7,736.1 151.2,733.7 C153.7,731.3 157.8,730.1 161.3,728.6 C164.8,727.1 167.3,725.8 172.2,724.6 C177.0,723.4 182.3,722.2 190.4,721.5 C198.5,720.8 210.7,720.2 220.8,720.3 C230.9,720.4 243.7,721.9 251.2,722.1 C258.7,722.3 261.8,722.1 265.8,721.5 C269.9,720.9 270.9,719.4 275.5,718.5 C280.1,717.6 286.6,716.3 293.7,716.0 C300.8,715.7 309.9,716.5 318.0,716.7 C326.1,716.9 337.1,717.0 342.4,717.3 C347.7,717.6 347.3,717.5 349.7,718.5 C352.1,719.5 354.2,722.3 357.0,723.3 C359.8,724.3 361.2,724.5 366.7,724.6 C372.2,724.7 381.7,724.0 390.0,723.7 C398.3,723.4 409.9,721.6 416.6,722.7 C423.3,723.9 426.5,728.9 430.4,730.6 C434.3,732.3 438.1,732.2 440.0,732.8 C441.9,733.4 441.8,734.1 442.1,734.4" fill="none" stroke="#9a1a30" stroke-width="2.8" stroke-linecap="round"/>
<path d="M185.6,738.8 C184.9,740.8 182.4,746.3 181.6,750.9 C180.8,755.5 180.1,761.9 180.6,766.1 C181.1,770.3 182.5,773.8 184.6,776.3 C186.7,778.8 187.4,778.4 193.2,781.4 C199.0,784.4 210.7,791.6 219.5,794.5 C228.3,797.4 238.9,797.6 245.9,798.5 C252.9,799.4 257.3,798.8 261.7,799.8 C266.1,800.8 268.7,804.4 272.2,804.4 C275.7,804.4 278.3,799.7 282.7,799.8 C287.1,799.9 294.6,804.3 298.5,805.1 C302.4,805.9 303.1,805.3 306.4,804.4 C309.7,803.5 314.1,799.7 318.3,799.8 C322.5,799.9 327.1,802.5 331.5,805.1 C335.9,807.7 340.8,811.7 344.7,815.6 C348.6,819.5 352.2,824.6 355.2,828.8 C358.2,833.0 361.3,839.0 362.5,841.0" fill="none" stroke="#9a1a30" stroke-width="2.8" stroke-linecap="round"/>
<path d="M299.9,872.3 C306.3,872.2 329.6,872.3 338.1,871.6 C346.7,870.9 345.7,869.7 351.2,868.3 C356.7,866.9 365.9,864.8 371.0,863.0 C376.1,861.2 377.1,861.5 381.5,857.8 C385.9,854.1 391.8,848.3 397.3,840.6 C402.8,832.9 409.7,818.1 414.5,811.7 C419.3,805.3 423.2,803.7 426.3,802.4 C429.4,801.1 431.0,803.3 433.0,804.0 C435.0,804.7 435.5,806.6 438.2,806.7 C440.9,806.8 445.7,804.0 449.2,804.4 C452.7,804.8 455.7,808.6 459.2,808.9 C462.7,809.2 467.2,806.6 470.1,806.2 C473.0,805.8 471.9,804.8 476.5,806.7 C481.1,808.6 492.5,815.6 497.5,817.6 C502.5,819.6 502.8,818.8 506.6,819.0 C510.4,819.2 515.7,818.2 520.3,819.0 C524.9,819.8 529.1,822.4 534.0,824.0 C538.9,825.6 546.8,827.8 549.4,828.5" fill="none" stroke="#9a1a30" stroke-width="2.8" stroke-linecap="round"/>
<path d="M165.4,755.5 L165.4,769.5 L176,763 Z" fill="#000"/>
<g stroke="#000" stroke-width="1.2" fill="none" stroke-linecap="round"><path d="M175,763 L191.7,763.1 L234.3,753"/><path d="M191.7,763.1 L236.3,760"/><path d="M191.7,763.1 L240.3,766.6"/><path d="M191.7,763.1 L234.3,774.7"/><path d="M200,762 L224,756"/><path d="M205,764 L230,771"/><path d="M165.4,760 L157.3,752.4"/><path d="M165.4,760 L163.3,747.4"/><path d="M165.4,766 L159.3,769.2"/><path d="M165.4,766 L165.4,775.2"/><path d="M165,758 L160,749"/><path d="M166,768 L162,774"/></g>
<path d="M335.7,682.6 L346.6,682.6 L341.2,694.5 Z" fill="#000"/>
<g stroke="#000" stroke-width="1.2" fill="none" stroke-linecap="round"><path d="M337,683 C334,675 330,668 325.3,662"/><path d="M336,681 C333,672 330,667 327,664"/><path d="M331,670 C333,665 330,661 328,660"/><path d="M345,683 C349,676 352,668 357,661.3"/><path d="M346,681 C352,674 360,667 365.5,661.3"/><path d="M346,680 C354,674 362,668 369.7,663.2"/><path d="M350,676 C352,671 353,667 356,664"/><path d="M341.2,694 L341.2,701"/><path d="M341.2,701 C338,710 329,716 325.3,722.1"/><path d="M341.2,701 C337,712 334,722 332.6,728.2"/><path d="M341.2,701 C339,714 337,724 336.3,730.6"/><path d="M341.2,701 C342,714 344,724 344.8,730.6"/><path d="M341.2,701 C346,712 350,722 353.3,728.2"/><path d="M341.2,701 C341,712 340,720 340,726"/></g>
<circle cx="364.4" cy="844.6" r="5" fill="#000"/>
<g stroke="#000" stroke-width="1" fill="none"><path d="M364.4,846 L368.4,867"/><path d="M364.4,846 L372.3,864.4"/><path d="M364.4,846 L380.2,861.7"/><path d="M364.4,846 L366,866"/></g>
<g stroke="#6b2c4a" stroke-width="3.1" fill="none" stroke-linecap="round"><line x1="134.3" y1="623.7" x2="248.4" y2="718.6"/><line x1="127" y1="641" x2="221.1" y2="718.6"/><ellipse cx="128.6" cy="632.2" rx="3.8" ry="9" transform="rotate(20.6 128.6 632.2)"/></g>
<path d="M349.7,717.3 L452.5,622.5 L461,635.5 Z" fill="#4b9dd6" stroke="#000" stroke-width="1.6" stroke-linejoin="round"/>
<path d="M349.7,717.3 L358,707 L361,710 Z" fill="#000" stroke="#000" stroke-width="1.5"/>
<ellipse cx="456.8" cy="629" rx="3.6" ry="8" transform="rotate(-33 456.8 629)" fill="#444" stroke="#000" stroke-width="1.4"/>
<path d="M459.2,626.2 C461.6,624.2 469.2,616.9 473.8,613.9 C478.4,610.9 480.6,610.4 486.6,608.1 C492.6,605.8 502.1,602.4 509.9,600.0 C517.7,597.6 527.4,594.7 533.2,593.5 C539.0,592.3 541.5,592.6 544.9,592.7 C548.3,592.8 551.7,593.8 553.6,594.1 C555.5,594.4 556.0,594.6 556.5,594.7" fill="none" stroke="#000" stroke-width="2.1"/>
<path d="M556.5,572.6 L556.5,627.9 L595,600 Z" fill="none" stroke="#000" stroke-width="2.3" stroke-linejoin="miter"/>
<g stroke="#000" stroke-width="2" fill="none"><path d="M556.5,607.9 L539,607.9 L539,626.7"/><line x1="528.5" y1="626.7" x2="547.8" y2="626.7"/><line x1="530.3" y1="630.8" x2="546.6" y2="630.8"/><line x1="532.6" y1="634.7" x2="544.3" y2="634.7"/><line x1="535" y1="638.2" x2="542" y2="638.2"/><line x1="538.7" y1="638.2" x2="538.7" y2="641.9"/></g>
<text transform="translate(66.49,670.90) scale(1.0185,1)" font-size="26.30" fill="#000" font-family="'Liberation Serif', 'Times New Roman', serif" font-weight="bold">Stim</text>
<text transform="translate(273.60,677.10) scale(1.0137,1)" font-size="25.70" fill="#000" font-family="'Liberation Serif', 'Times New Roman', serif" font-weight="bold">CA1</text>
<text transform="translate(278.55,714.20) scale(1.0344,1)" font-size="23.00" fill="#000" font-family="'Liberation Serif', 'Times New Roman', serif" font-weight="bold">SC</text>
<text transform="translate(143.28,795.50) scale(1.0475,1)" font-size="25.20" fill="#000" font-family="'Liberation Serif', 'Times New Roman', serif" font-weight="bold">CA3</text>
<text transform="translate(570.95,640.10) scale(1.0200,1)" font-size="60.50" fill="#000" font-family="'Liberation Serif', 'Times New Roman', serif" font-weight="normal">Rec</text>
<line x1="859" y1="666.6" x2="859" y2="720.8" stroke="#ff1f14" stroke-width="3" stroke-linecap="butt"/>
<line x1="852.6" y1="666.6" x2="865.4" y2="666.6" stroke="#ff1f14" stroke-width="3" stroke-linecap="butt"/>
<line x1="852.6" y1="720.8" x2="865.4" y2="720.8" stroke="#ff1f14" stroke-width="3" stroke-linecap="butt"/>
<line x1="948.5" y1="684" x2="948.5" y2="736.8" stroke="#ff1f14" stroke-width="3" stroke-linecap="butt"/>
<line x1="942.1" y1="684" x2="954.9" y2="684" stroke="#ff1f14" stroke-width="3" stroke-linecap="butt"/>
<line x1="942.1" y1="736.8" x2="954.9" y2="736.8" stroke="#ff1f14" stroke-width="3" stroke-linecap="butt"/>
<line x1="1036.7" y1="726.4" x2="1036.7" y2="757.5" stroke="#ff1f14" stroke-width="3" stroke-linecap="butt"/>
<line x1="1030.3" y1="726.4" x2="1043.1" y2="726.4" stroke="#ff1f14" stroke-width="3" stroke-linecap="butt"/>
<line x1="1030.3" y1="757.5" x2="1043.1" y2="757.5" stroke="#ff1f14" stroke-width="3" stroke-linecap="butt"/>
<line x1="1125.8" y1="745.8" x2="1125.8" y2="765.2" stroke="#ff1f14" stroke-width="3" stroke-linecap="butt"/>
<line x1="1119.4" y1="745.8" x2="1132.2" y2="745.8" stroke="#ff1f14" stroke-width="3" stroke-linecap="butt"/>
<line x1="1119.4" y1="765.2" x2="1132.2" y2="765.2" stroke="#ff1f14" stroke-width="3" stroke-linecap="butt"/>
<line x1="1214.5" y1="759.2" x2="1214.5" y2="804.3" stroke="#ff1f14" stroke-width="3" stroke-linecap="butt"/>
<line x1="1208.1" y1="759.2" x2="1220.9" y2="759.2" stroke="#ff1f14" stroke-width="3" stroke-linecap="butt"/>
<line x1="1208.1" y1="804.3" x2="1220.9" y2="804.3" stroke="#ff1f14" stroke-width="3" stroke-linecap="butt"/>
<polyline points="859,694 948.5,710.7 1036.7,741.8 1125.8,755.9 1214.5,782.6" fill="none" stroke="#ff1f14" stroke-width="3" stroke-linejoin="round"/>
<circle cx="859" cy="694" r="6.2" fill="#f43a3a" stroke="#ff1f14" stroke-width="1"/>
<circle cx="948.5" cy="710.7" r="6.2" fill="#f43a3a" stroke="#ff1f14" stroke-width="1"/>
<circle cx="1036.7" cy="741.8" r="6.2" fill="#f43a3a" stroke="#ff1f14" stroke-width="1"/>
<circle cx="1125.8" cy="755.9" r="6.2" fill="#f43a3a" stroke="#ff1f14" stroke-width="1"/>
<circle cx="1214.5" cy="782.6" r="6.2" fill="#f43a3a" stroke="#ff1f14" stroke-width="1"/>
<line x1="859" y1="594.4" x2="859" y2="659.9" stroke="#000" stroke-width="3" stroke-linecap="butt"/>
<line x1="852.6" y1="594.4" x2="865.4" y2="594.4" stroke="#000" stroke-width="3" stroke-linecap="butt"/>
<line x1="852.6" y1="659.9" x2="865.4" y2="659.9" stroke="#000" stroke-width="3" stroke-linecap="butt"/>
<line x1="948.5" y1="641.2" x2="948.5" y2="700.7" stroke="#000" stroke-width="3" stroke-linecap="butt"/>
<line x1="942.1" y1="641.2" x2="954.9" y2="641.2" stroke="#000" stroke-width="3" stroke-linecap="butt"/>
<line x1="942.1" y1="700.7" x2="954.9" y2="700.7" stroke="#000" stroke-width="3" stroke-linecap="butt"/>
<line x1="1036.7" y1="680" x2="1036.7" y2="716.4" stroke="#000" stroke-width="3" stroke-linecap="butt"/>
<line x1="1030.3" y1="680" x2="1043.1" y2="680" stroke="#000" stroke-width="3" stroke-linecap="butt"/>
<line x1="1030.3" y1="716.4" x2="1043.1" y2="716.4" stroke="#000" stroke-width="3" stroke-linecap="butt"/>
<line x1="1125.8" y1="705.7" x2="1125.8" y2="743.5" stroke="#000" stroke-width="3" stroke-linecap="butt"/>
<line x1="1119.4" y1="705.7" x2="1132.2" y2="705.7" stroke="#000" stroke-width="3" stroke-linecap="butt"/>
<line x1="1119.4" y1="743.5" x2="1132.2" y2="743.5" stroke="#000" stroke-width="3" stroke-linecap="butt"/>
<line x1="1214.5" y1="753.5" x2="1214.5" y2="771.9" stroke="#000" stroke-width="3" stroke-linecap="butt"/>
<line x1="1208.1" y1="753.5" x2="1220.9" y2="753.5" stroke="#000" stroke-width="3" stroke-linecap="butt"/>
<line x1="1208.1" y1="771.9" x2="1220.9" y2="771.9" stroke="#000" stroke-width="3" stroke-linecap="butt"/>
<polyline points="859,627.1 948.5,670.6 1036.7,698.4 1125.8,724.1 1214.5,762.5" fill="none" stroke="#000" stroke-width="3" stroke-linejoin="round"/>
<circle cx="859" cy="627.1" r="6.2" fill="#000"/>
<circle cx="948.5" cy="670.6" r="6.2" fill="#000"/>
<circle cx="1036.7" cy="698.4" r="6.2" fill="#000"/>
<circle cx="1125.8" cy="724.1" r="6.2" fill="#000"/>
<circle cx="1214.5" cy="762.5" r="6.2" fill="#000"/>
<line x1="815.5" y1="553" x2="815.5" y2="851.4" stroke="#000" stroke-width="3" stroke-linecap="butt"/>
<line x1="804.5" y1="849.9" x2="815.5" y2="849.9" stroke="#000" stroke-width="3" stroke-linecap="butt"/>
<line x1="804.5" y1="776.05" x2="815.5" y2="776.05" stroke="#000" stroke-width="3" stroke-linecap="butt"/>
<line x1="804.5" y1="702.2" x2="815.5" y2="702.2" stroke="#000" stroke-width="3" stroke-linecap="butt"/>
<line x1="804.5" y1="628.35" x2="815.5" y2="628.35" stroke="#000" stroke-width="3" stroke-linecap="butt"/>
<line x1="804.5" y1="554.5" x2="815.5" y2="554.5" stroke="#000" stroke-width="3" stroke-linecap="butt"/>
<line x1="804.5" y1="849.9" x2="1259.2" y2="849.9" stroke="#000" stroke-width="3" stroke-linecap="butt"/>
<line x1="859" y1="849.9" x2="859" y2="862.9" stroke="#000" stroke-width="3" stroke-linecap="butt"/>
<line x1="948.5" y1="849.9" x2="948.5" y2="862.9" stroke="#000" stroke-width="3" stroke-linecap="butt"/>
<line x1="1036.7" y1="849.9" x2="1036.7" y2="862.9" stroke="#000" stroke-width="3" stroke-linecap="butt"/>
<line x1="1125.8" y1="849.9" x2="1125.8" y2="862.9" stroke="#000" stroke-width="3" stroke-linecap="butt"/>
<line x1="1214.5" y1="849.9" x2="1214.5" y2="862.9" stroke="#000" stroke-width="3" stroke-linecap="butt"/>
<text transform="translate(783.97,860.10) scale(0.8900,1)" font-size="30.60" fill="#000" font-family="'Liberation Sans', Arial, sans-serif" font-weight="bold">0</text>
<text transform="translate(783.63,786.25) scale(0.8900,1)" font-size="30.60" fill="#000" font-family="'Liberation Sans', Arial, sans-serif" font-weight="bold">1</text>
<text transform="translate(783.97,712.40) scale(0.8900,1)" font-size="30.60" fill="#000" font-family="'Liberation Sans', Arial, sans-serif" font-weight="bold">2</text>
<text transform="translate(783.84,638.55) scale(0.8900,1)" font-size="30.60" fill="#000" font-family="'Liberation Sans', Arial, sans-serif" font-weight="bold">3</text>
<text transform="translate(783.02,564.70) scale(0.8900,1)" font-size="30.60" fill="#000" font-family="'Liberation Sans', Arial, sans-serif" font-weight="bold">4</text>
<text transform="translate(843.95,894.70) scale(0.8900,1)" font-size="30.60" fill="#000" font-family="'Liberation Sans', Arial, sans-serif" font-weight="bold">20</text>
<text transform="translate(933.28,894.70) scale(0.8900,1)" font-size="30.60" fill="#000" font-family="'Liberation Sans', Arial, sans-serif" font-weight="bold">25</text>
<text transform="translate(1021.72,894.70) scale(0.8900,1)" font-size="30.60" fill="#000" font-family="'Liberation Sans', Arial, sans-serif" font-weight="bold">50</text>
<text transform="translate(1102.79,894.70) scale(0.8900,1)" font-size="30.60" fill="#000" font-family="'Liberation Sans', Arial, sans-serif" font-weight="bold">100</text>
<text transform="translate(1191.86,894.70) scale(0.8900,1)" font-size="30.60" fill="#000" font-family="'Liberation Sans', Arial, sans-serif" font-weight="bold">200</text>
<text transform="translate(955.43,939.70) scale(1.0217,1)" font-size="30.00" fill="#000" font-family="'Liberation Sans', Arial, sans-serif" font-weight="bold">Intervals(ms)</text>
<text transform="translate(762.50,843.13) rotate(-90) scale(1.0012,1)" font-size="30.00" font-family="'Liberation Sans', Arial, sans-serif" font-weight="bold">EPSP2/EPSP1 slope</text>
<polyline points="1030.5,614.8 1008.3,614.8 1008.3,548.7 1054.8,548.7 1054.8,561.7" fill="none" stroke="#000" stroke-width="3" stroke-linejoin="miter"/>
<line x1="1041.4" y1="574.3" x2="1074.4" y2="574.3" stroke="#000" stroke-width="3" stroke-linecap="butt"/>
<circle cx="1057.9" cy="574.3" r="5.8" fill="#000"/>
<line x1="1041.4" y1="617.1" x2="1074.4" y2="617.1" stroke="#ff1f14" stroke-width="3" stroke-linecap="butt"/>
<circle cx="1057.9" cy="617.1" r="5.8" fill="#f43a3a" stroke="#ff1f14" stroke-width="1"/>
<text transform="translate(1011.81,552.24) scale(1.0477,1)" font-size="33.80" fill="#000" font-family="'Liberation Sans', Arial, sans-serif" font-weight="bold" letter-spacing="2.60">**</text>
<text transform="translate(1094.63,584.80) scale(0.9897,1)" font-size="30.00" fill="#000" font-family="'Liberation Sans', Arial, sans-serif" font-weight="bold">WT</text>
<text transform="translate(1096.02,628.10) scale(1.0362,1)" font-size="30.00" fill="#000"><tspan font-family="'Liberation Sans', Arial, sans-serif" font-weight="bold" font-style="italic">Aeg-1</tspan><tspan font-family="'Liberation Sans', Arial, sans-serif" font-weight="bold" font-size="18.60" dy="-11.10">fl/fl</tspan><tspan font-family="'Liberation Sans', Arial, sans-serif" font-weight="bold" dy="11.10">Cre</tspan><tspan font-family="'Liberation Sans', Arial, sans-serif" font-weight="bold" font-size="18.60" dy="-11.10">+</tspan></text>
<path d="M1540,858.6 L1540,644.7 L1619,644.7 L1619,858.6" fill="none" stroke="#000" stroke-width="3"/>
<path d="M1666.5,858.6 L1666.5,701.3 L1745,701.3 L1745,858.6" fill="none" stroke="#ff1f14" stroke-width="3"/>
<line x1="1579.5" y1="571.4" x2="1579.5" y2="715" stroke="#000" stroke-width="3" stroke-linecap="butt"/>
<line x1="1558.4" y1="571.4" x2="1600.6" y2="571.4" stroke="#000" stroke-width="3" stroke-linecap="butt"/>
<line x1="1558.4" y1="715" x2="1600.6" y2="715" stroke="#000" stroke-width="3" stroke-linecap="butt"/>
<line x1="1706.2" y1="650.7" x2="1706.2" y2="749.2" stroke="#ff1f14" stroke-width="3" stroke-linecap="butt"/>
<line x1="1684.9" y1="650.7" x2="1727" y2="650.7" stroke="#ff1f14" stroke-width="3" stroke-linecap="butt"/>
<line x1="1684.9" y1="749.2" x2="1727" y2="749.2" stroke="#ff1f14" stroke-width="3" stroke-linecap="butt"/>
<circle cx="1579.5" cy="607" r="3.6" fill="#000"/>
<circle cx="1579.5" cy="646.5" r="3.6" fill="#000"/>
<circle cx="1579.5" cy="682" r="3.6" fill="#000"/>
<circle cx="1579.5" cy="736.6" r="3.6" fill="#000"/>
<circle cx="1706.2" cy="639.4" r="3.6" fill="#ff1f14"/>
<circle cx="1706.2" cy="663.1" r="3.6" fill="#ff1f14"/>
<circle cx="1706.2" cy="707.9" r="3.6" fill="#ff1f14"/>
<circle cx="1706.2" cy="726.3" r="3.6" fill="#ff1f14"/>
<circle cx="1706.2" cy="763.7" r="3.6" fill="#ff1f14"/>
<line x1="1495.2" y1="546.3" x2="1495.2" y2="860.1" stroke="#000" stroke-width="3" stroke-linecap="butt"/>
<line x1="1484.2" y1="858.6" x2="1495.2" y2="858.6" stroke="#000" stroke-width="3" stroke-linecap="butt"/>
<line x1="1484.2" y1="755" x2="1495.2" y2="755" stroke="#000" stroke-width="3" stroke-linecap="butt"/>
<line x1="1484.2" y1="651.4" x2="1495.2" y2="651.4" stroke="#000" stroke-width="3" stroke-linecap="butt"/>
<line x1="1484.2" y1="547.8" x2="1495.2" y2="547.8" stroke="#000" stroke-width="3" stroke-linecap="butt"/>
<line x1="1482" y1="858.6" x2="1792.1" y2="858.6" stroke="#000" stroke-width="3" stroke-linecap="butt"/>
<line x1="1579" y1="858.6" x2="1579" y2="870.4" stroke="#000" stroke-width="3" stroke-linecap="butt"/>
<line x1="1705.4" y1="858.6" x2="1705.4" y2="870.4" stroke="#000" stroke-width="3" stroke-linecap="butt"/>
<text transform="translate(1463.47,868.80) scale(0.8900,1)" font-size="30.60" fill="#000" font-family="'Liberation Sans', Arial, sans-serif" font-weight="bold">0</text>
<text transform="translate(1463.13,765.20) scale(0.8900,1)" font-size="30.60" fill="#000" font-family="'Liberation Sans', Arial, sans-serif" font-weight="bold">1</text>
<text transform="translate(1463.47,661.60) scale(0.8900,1)" font-size="30.60" fill="#000" font-family="'Liberation Sans', Arial, sans-serif" font-weight="bold">2</text>
<text transform="translate(1463.34,558.00) scale(0.8900,1)" font-size="30.60" fill="#000" font-family="'Liberation Sans', Arial, sans-serif" font-weight="bold">3</text>
<line x1="1579.5" y1="550.3" x2="1703.3" y2="550.3" stroke="#000" stroke-width="5" stroke-linecap="butt"/>
<text stroke="#000" stroke-width="1.1" stroke-linejoin="round" transform="translate(1620.38,545.95) scale(0.8899,1)" font-size="40.20" fill="#000" font-family="'DejaVu Sans', sans-serif" font-weight="bold" letter-spacing="4.30">**</text>
<text transform="translate(1443.20,840.78) rotate(-90) scale(0.9802,1)" font-size="30.00" font-family="'Liberation Sans', Arial, sans-serif" font-weight="bold">EPSP2/EPSP1 slope</text>
<text transform="translate(1555.72,902.00) scale(1.0243,1)" font-size="30.00" fill="#000" font-family="'Liberation Sans', Arial, sans-serif" font-weight="bold">WT</text>
<text transform="translate(1617.02,902.00) scale(1.0414,1)" font-size="30.00" fill="#000"><tspan font-family="'Liberation Sans', Arial, sans-serif" font-weight="bold" font-style="italic">Aeg-1</tspan><tspan font-family="'Liberation Sans', Arial, sans-serif" font-weight="bold" font-size="18.60" dy="-11.10">fl/fl</tspan><tspan font-family="'Liberation Sans', Arial, sans-serif" font-weight="bold" dy="11.10">Cre</tspan><tspan font-family="'Liberation Sans', Arial, sans-serif" font-weight="bold" font-size="18.60" dy="-11.10">+</tspan></text>
<text transform="translate(383.41,1171.40) scale(0.9911,1)" font-size="37.20" fill="#000" font-family="'Liberation Sans', Arial, sans-serif" font-weight="bold">Before</text>
<text transform="translate(958.67,1173.60) scale(1.0026,1)" font-size="37.20" fill="#000" font-family="'Liberation Sans', Arial, sans-serif" font-weight="bold">After</text>
<text transform="translate(131.21,1332.60) scale(0.9846,1)" font-size="37.20" fill="#000" font-family="'Liberation Sans', Arial, sans-serif" font-weight="bold">WT</text>
<text transform="translate(5.02,1655.40) scale(0.9701,1)" font-size="37.20" fill="#000"><tspan font-family="'Liberation Sans', Arial, sans-serif" font-weight="bold" font-style="italic">Aeg-1</tspan><tspan font-family="'Liberation Sans', Arial, sans-serif" font-weight="bold" font-size="23.00" dy="-14.00">fl/fl</tspan><tspan font-family="'Liberation Sans', Arial, sans-serif" font-weight="bold" dy="14.00"> Cre</tspan><tspan font-family="'Liberation Sans', Arial, sans-serif" font-weight="bold" font-size="23.00" dy="-14.00">+</tspan></text>
<path d="M246.1,1254.4 C247.2,1254.4 254.2,1254.2 255.8,1254.2 C257.4,1254.2 258.5,1254.8 259.5,1254.8 C260.5,1254.8 262.8,1254.3 264.3,1254.2 C265.8,1254.1 271.0,1253.6 272.2,1253.8 C273.4,1254.0 274.3,1254.7 274.7,1256.0 C275.1,1257.3 275.8,1264.0 275.9,1265.1" fill="none" stroke="#000" stroke-width="2.8" stroke-linejoin="round" stroke-linecap="round"/>
<path d="M275.9,1265.1 L280.3,1441.4 M286,1441.4 L286.8,1395.2 L288,1346.6 L289.2,1310.1" fill="none" stroke="#000" stroke-width="2.8"/>
<path d="M289.2,1310.1 C289.4,1306.6 290.1,1285.0 290.5,1279.7 C290.9,1274.5 291.7,1267.9 292.3,1265.1 C292.9,1262.3 294.4,1257.0 295.3,1255.4 C296.2,1253.8 297.5,1251.7 299.6,1251.1 C301.7,1250.5 309.7,1250.8 313.0,1250.5 C316.3,1250.2 325.0,1249.0 327.5,1248.1 C330.0,1247.2 333.0,1244.3 334.8,1243.2 C336.6,1242.1 341.6,1238.4 343.3,1238.4 C345.0,1238.4 348.0,1241.2 349.4,1243.2 C350.8,1245.2 354.1,1252.6 355.5,1255.4 C356.9,1258.2 360.3,1265.0 361.6,1266.9 C362.9,1268.8 364.3,1271.2 366.4,1271.8 C368.5,1272.4 377.2,1272.0 379.8,1271.8 C382.4,1271.6 386.2,1270.2 388.3,1270.2 C390.4,1270.2 395.5,1271.0 398.1,1271.8 C400.7,1272.6 407.1,1275.4 410.2,1276.7 C413.3,1278.0 420.5,1281.5 424.8,1282.8 C429.1,1284.1 441.6,1287.6 446.7,1288.2 C451.8,1288.8 464.8,1287.9 468.6,1287.6 C472.4,1287.3 474.9,1286.7 479.5,1285.8 C484.1,1284.9 501.7,1281.2 508.0,1280.0 C514.3,1278.8 528.1,1276.3 533.3,1275.6 C538.5,1274.9 549.3,1274.2 552.3,1273.7 C555.3,1273.2 553.5,1272.2 558.7,1271.2 C563.9,1270.2 589.2,1266.4 596.6,1265.5 C604.0,1264.6 615.4,1264.2 622.0,1263.6 C628.6,1263.0 647.7,1260.8 653.6,1260.4 C659.5,1260.0 666.5,1260.3 672.6,1260.1 C678.7,1259.9 701.8,1259.2 705.6,1259.1" fill="none" stroke="#000" stroke-width="2.8" stroke-linejoin="round" stroke-linecap="round"/>
<path d="M737.3,1256.9 C740.4,1256.9 760.6,1256.3 764.0,1256.6 C767.4,1256.9 766.1,1257.7 766.5,1259.7 C766.9,1261.7 767.6,1272.0 767.7,1273.6" fill="none" stroke="#000" stroke-width="2.8" stroke-linejoin="round" stroke-linecap="round"/>
<path d="M767.7,1273.6 L771.6,1440.2 M777.7,1440.2 L778,1395.2 L779.2,1346.6 L780.5,1310.1" fill="none" stroke="#000" stroke-width="2.8"/>
<path d="M780.5,1310.1 C780.7,1307.3 781.8,1290.3 782.3,1285.8 C782.8,1281.3 784.1,1274.2 784.7,1271.2 C785.3,1268.2 786.8,1262.2 787.8,1260.3 C788.8,1258.4 792.0,1255.6 793.2,1254.8 C794.4,1254.0 795.5,1254.1 798.1,1253.6 C800.7,1253.1 812.3,1251.3 815.1,1250.5 C817.9,1249.7 820.1,1248.2 822.4,1246.9 C824.7,1245.6 833.1,1240.0 835.2,1239.6 C837.3,1239.2 839.4,1242.2 840.6,1243.8 C841.8,1245.4 844.2,1249.9 845.5,1253.0 C846.8,1256.1 850.3,1267.0 851.6,1270.0 C852.9,1273.0 855.0,1277.6 856.4,1279.1 C857.8,1280.6 861.7,1282.5 863.7,1282.8 C865.7,1283.1 871.8,1281.3 873.5,1281.5 C875.2,1281.7 876.6,1282.7 878.3,1284.6 C880.0,1286.5 885.1,1294.6 888.1,1298.0 C891.1,1301.4 900.8,1311.3 903.9,1313.8 C907.0,1316.3 911.7,1318.0 914.8,1319.2 C917.9,1320.4 927.8,1323.5 930.6,1324.1 C933.4,1324.7 936.5,1324.7 939.1,1324.1 C941.7,1323.5 949.0,1320.4 952.5,1319.2 C956.0,1318.0 964.9,1315.4 969.5,1313.8 C974.1,1312.2 984.7,1308.3 991.7,1305.7 C998.7,1303.1 1021.6,1293.6 1029.7,1291.2 C1037.8,1288.8 1053.2,1286.4 1061.3,1284.8 C1069.4,1283.2 1089.7,1279.4 1099.3,1277.9 C1108.9,1276.4 1134.7,1273.1 1143.6,1272.2 C1152.5,1271.3 1169.1,1270.7 1175.3,1270.3 C1181.5,1269.9 1194.3,1268.9 1196.8,1268.7" fill="none" stroke="#000" stroke-width="2.8" stroke-linejoin="round" stroke-linecap="round"/>
<path d="M240.8,1597.8 C241.6,1598.0 244.8,1599.1 247.8,1599.1 C250.8,1599.1 263.8,1597.5 266.3,1597.8 C268.8,1598.1 268.4,1599.1 268.9,1601.6 C269.4,1604.1 270.0,1617.4 270.2,1619.5" fill="none" stroke="#ff1f14" stroke-width="2.8" stroke-linejoin="round" stroke-linecap="round"/>
<path d="M270.2,1619.5 L271.5,1651.5 L272.1,1696.3 L272.1,1761.5 M282.1,1761.5 L282.3,1709.1 L283,1657.9 L283.6,1619.5" fill="none" stroke="#ff1f14" stroke-width="2.8"/>
<path d="M283.6,1619.5 C283.7,1615.3 284.1,1589.5 284.3,1583.7 C284.5,1577.9 285.2,1571.6 285.5,1569.7 C285.8,1567.8 286.4,1567.6 286.8,1567.7 C287.2,1567.8 288.1,1569.6 288.7,1570.9 C289.3,1572.2 290.7,1577.3 291.9,1578.6 C293.1,1579.9 297.1,1581.7 299.0,1581.8 C300.9,1581.9 306.1,1580.1 307.9,1579.3 C309.7,1578.5 312.5,1576.4 314.3,1574.8 C316.1,1573.2 321.5,1568.2 323.3,1565.8 C325.1,1563.4 328.2,1556.7 329.7,1554.3 C331.2,1551.9 334.8,1545.8 336.1,1545.4 C337.4,1545.0 340.2,1548.0 341.2,1550.5 C342.2,1553.0 344.3,1562.0 345.0,1567.1 C345.7,1572.2 347.0,1586.4 347.6,1594.0 C348.2,1601.6 349.4,1623.4 350.1,1632.3 C350.8,1641.2 353.1,1663.7 354.0,1670.7 C354.9,1677.7 356.9,1689.1 357.8,1692.5 C358.7,1695.9 360.7,1699.4 361.6,1699.5 C362.5,1699.6 364.4,1697.1 365.5,1693.7 C366.6,1690.3 369.3,1675.9 370.6,1670.7 C371.9,1665.5 375.5,1654.1 377.0,1649.0 C378.5,1643.9 382.1,1630.4 383.4,1627.2 C384.7,1624.0 387.2,1622.5 388.5,1621.5 C389.8,1620.5 393.0,1618.2 394.3,1618.3 C395.6,1618.4 398.4,1620.8 400.0,1622.1 C401.6,1623.4 405.8,1627.8 407.7,1629.1 C409.6,1630.4 414.0,1632.6 416.7,1633.6 C419.4,1634.6 428.0,1636.6 430.7,1637.5 C433.4,1638.4 437.2,1640.9 439.7,1641.3 C442.2,1641.7 449.5,1640.8 452.5,1640.7 C455.5,1640.6 462.8,1640.8 465.3,1640.3 C467.8,1639.8 469.6,1637.0 474.2,1636.2 C478.8,1635.4 497.1,1634.7 504.3,1633.7 C511.5,1632.7 526.4,1629.0 536.0,1627.4 C545.6,1625.8 576.3,1621.2 586.6,1619.8 C596.9,1618.4 615.7,1616.4 624.6,1615.3 C633.5,1614.2 653.6,1611.1 662.6,1610.3 C671.6,1609.5 697.3,1608.6 701.9,1608.4" fill="none" stroke="#ff1f14" stroke-width="2.8" stroke-linejoin="round" stroke-linecap="round"/>
<path d="M741.4,1588.2 C742.6,1588.2 748.5,1588.7 751.6,1588.6 C754.7,1588.5 765.4,1587.0 767.6,1587.6 C769.8,1588.2 769.7,1590.3 770.2,1594.0 C770.7,1597.7 771.3,1616.5 771.5,1619.5" fill="none" stroke="#ff1f14" stroke-width="2.8" stroke-linejoin="round" stroke-linecap="round"/>
<path d="M771.5,1619.5 L772.1,1670.7 L773.4,1721.9 L774,1764.1 M781.7,1764.1 L782.3,1709.1 L783.6,1645.1 L784.9,1600.4" fill="none" stroke="#ff1f14" stroke-width="2.8"/>
<path d="M784.9,1600.4 C785.1,1598.5 785.7,1586.5 786.2,1583.7 C786.7,1580.9 788.6,1577.0 789.4,1576.1 C790.2,1575.2 792.1,1575.9 793.2,1576.3 C794.3,1576.7 797.0,1579.3 799.0,1579.3 C801.0,1579.3 808.3,1577.4 810.5,1576.7 C812.7,1576.0 816.4,1574.0 818.2,1572.9 C820.0,1571.8 824.2,1568.7 825.8,1567.1 C827.4,1565.5 830.8,1561.1 832.2,1559.4 C833.6,1557.7 836.8,1553.1 838.0,1552.8 C839.2,1552.5 841.5,1554.8 842.5,1556.9 C843.5,1559.0 845.4,1566.6 846.3,1570.9 C847.2,1575.2 849.2,1588.3 850.1,1594.0 C851.0,1599.7 853.1,1613.8 854.0,1619.5 C854.9,1625.2 856.8,1638.0 857.8,1642.6 C858.8,1647.2 861.7,1657.7 862.9,1658.6 C864.1,1659.5 866.8,1652.9 868.0,1650.3 C869.2,1647.7 871.7,1639.1 873.2,1636.2 C874.7,1633.3 879.1,1627.2 880.8,1625.3 C882.5,1623.4 886.4,1620.3 887.9,1620.2 C889.4,1620.1 892.2,1623.2 893.6,1624.7 C895.0,1626.2 897.3,1630.5 900.0,1633.0 C902.7,1635.5 912.4,1643.7 916.7,1646.4 C921.0,1649.1 933.4,1654.9 937.1,1656.0 C940.8,1657.1 945.9,1656.6 948.6,1656.0 C951.3,1655.4 957.2,1651.9 960.2,1650.9 C963.2,1649.9 969.3,1649.2 974.2,1647.7 C979.1,1646.2 994.6,1640.4 1001.8,1638.3 C1009.0,1636.2 1027.6,1631.5 1036.0,1629.4 C1044.4,1627.3 1065.1,1621.7 1074.0,1619.9 C1082.9,1618.1 1103.1,1615.5 1112.0,1614.2 C1120.9,1612.9 1141.9,1610.0 1150.0,1608.9 C1158.1,1607.8 1175.7,1605.2 1181.6,1604.7 C1187.5,1604.2 1198.4,1604.7 1200.6,1604.7" fill="none" stroke="#ff1f14" stroke-width="2.8" stroke-linejoin="round" stroke-linecap="round"/>
<path d="M1125.2,1681.9 L1125.2,1728.1 L1214.2,1728.1" fill="none" stroke="#000" stroke-width="3"/>
<text transform="translate(1017.07,1716.90) scale(0.9445,1)" font-size="30.00" fill="#000" font-family="'Liberation Sans', Arial, sans-serif" font-weight="bold">0.25mV</text>
<text transform="translate(1142.78,1763.60) scale(0.9323,1)" font-size="30.00" fill="#000" font-family="'Liberation Sans', Arial, sans-serif" font-weight="bold">4ms</text>
<line x1="1437.2" y1="1226" x2="1437.2" y2="1281" stroke="#ff1f14" stroke-width="3" stroke-linecap="butt"/>
<line x1="1431.7" y1="1226" x2="1442.7" y2="1226" stroke="#ff1f14" stroke-width="3" stroke-linecap="butt"/>
<line x1="1431.7" y1="1281" x2="1442.7" y2="1281" stroke="#ff1f14" stroke-width="3" stroke-linecap="butt"/>
<circle cx="1437.2" cy="1253" r="3" fill="#ff1f14"/>
<line x1="1444.98" y1="1224.2" x2="1444.98" y2="1281.5" stroke="#ff1f14" stroke-width="3" stroke-linecap="butt"/>
<line x1="1439.48" y1="1224.2" x2="1450.48" y2="1224.2" stroke="#ff1f14" stroke-width="3" stroke-linecap="butt"/>
<line x1="1439.48" y1="1281.5" x2="1450.48" y2="1281.5" stroke="#ff1f14" stroke-width="3" stroke-linecap="butt"/>
<circle cx="1444.98" cy="1253" r="3" fill="#ff1f14"/>
<line x1="1452.75" y1="1230.7" x2="1452.75" y2="1276.3" stroke="#ff1f14" stroke-width="3" stroke-linecap="butt"/>
<line x1="1447.25" y1="1230.7" x2="1458.25" y2="1230.7" stroke="#ff1f14" stroke-width="3" stroke-linecap="butt"/>
<line x1="1447.25" y1="1276.3" x2="1458.25" y2="1276.3" stroke="#ff1f14" stroke-width="3" stroke-linecap="butt"/>
<circle cx="1452.75" cy="1253.5" r="3" fill="#ff1f14"/>
<line x1="1460.53" y1="1246.2" x2="1460.53" y2="1269.4" stroke="#ff1f14" stroke-width="3" stroke-linecap="butt"/>
<line x1="1455.03" y1="1246.2" x2="1466.03" y2="1246.2" stroke="#ff1f14" stroke-width="3" stroke-linecap="butt"/>
<line x1="1455.03" y1="1269.4" x2="1466.03" y2="1269.4" stroke="#ff1f14" stroke-width="3" stroke-linecap="butt"/>
<circle cx="1460.53" cy="1257.8" r="3" fill="#ff1f14"/>
<line x1="1468.3" y1="1234.1" x2="1468.3" y2="1269.4" stroke="#ff1f14" stroke-width="3" stroke-linecap="butt"/>
<line x1="1462.8" y1="1234.1" x2="1473.8" y2="1234.1" stroke="#ff1f14" stroke-width="3" stroke-linecap="butt"/>
<line x1="1462.8" y1="1269.4" x2="1473.8" y2="1269.4" stroke="#ff1f14" stroke-width="3" stroke-linecap="butt"/>
<circle cx="1468.3" cy="1251.75" r="3" fill="#ff1f14"/>
<line x1="1476.08" y1="1234.1" x2="1476.08" y2="1269.4" stroke="#ff1f14" stroke-width="3" stroke-linecap="butt"/>
<line x1="1470.58" y1="1234.1" x2="1481.58" y2="1234.1" stroke="#ff1f14" stroke-width="3" stroke-linecap="butt"/>
<line x1="1470.58" y1="1269.4" x2="1481.58" y2="1269.4" stroke="#ff1f14" stroke-width="3" stroke-linecap="butt"/>
<circle cx="1476.08" cy="1251.75" r="3" fill="#ff1f14"/>
<line x1="1483.85" y1="1236" x2="1483.85" y2="1268" stroke="#ff1f14" stroke-width="3" stroke-linecap="butt"/>
<line x1="1478.35" y1="1236" x2="1489.35" y2="1236" stroke="#ff1f14" stroke-width="3" stroke-linecap="butt"/>
<line x1="1478.35" y1="1268" x2="1489.35" y2="1268" stroke="#ff1f14" stroke-width="3" stroke-linecap="butt"/>
<circle cx="1483.85" cy="1252" r="3" fill="#ff1f14"/>
<line x1="1491.62" y1="1234.1" x2="1491.62" y2="1269.4" stroke="#ff1f14" stroke-width="3" stroke-linecap="butt"/>
<line x1="1486.12" y1="1234.1" x2="1497.12" y2="1234.1" stroke="#ff1f14" stroke-width="3" stroke-linecap="butt"/>
<line x1="1486.12" y1="1269.4" x2="1497.12" y2="1269.4" stroke="#ff1f14" stroke-width="3" stroke-linecap="butt"/>
<circle cx="1491.62" cy="1251.75" r="3" fill="#ff1f14"/>
<line x1="1499.4" y1="1246.2" x2="1499.4" y2="1269.4" stroke="#ff1f14" stroke-width="3" stroke-linecap="butt"/>
<line x1="1493.9" y1="1246.2" x2="1504.9" y2="1246.2" stroke="#ff1f14" stroke-width="3" stroke-linecap="butt"/>
<line x1="1493.9" y1="1269.4" x2="1504.9" y2="1269.4" stroke="#ff1f14" stroke-width="3" stroke-linecap="butt"/>
<circle cx="1499.4" cy="1257.8" r="3" fill="#ff1f14"/>
<line x1="1507.17" y1="1246.2" x2="1507.17" y2="1269.4" stroke="#ff1f14" stroke-width="3" stroke-linecap="butt"/>
<line x1="1501.67" y1="1246.2" x2="1512.67" y2="1246.2" stroke="#ff1f14" stroke-width="3" stroke-linecap="butt"/>
<line x1="1501.67" y1="1269.4" x2="1512.67" y2="1269.4" stroke="#ff1f14" stroke-width="3" stroke-linecap="butt"/>
<circle cx="1507.17" cy="1257.8" r="3" fill="#ff1f14"/>
<line x1="1514.95" y1="1246.2" x2="1514.95" y2="1269.4" stroke="#ff1f14" stroke-width="3" stroke-linecap="butt"/>
<line x1="1509.45" y1="1246.2" x2="1520.45" y2="1246.2" stroke="#ff1f14" stroke-width="3" stroke-linecap="butt"/>
<line x1="1509.45" y1="1269.4" x2="1520.45" y2="1269.4" stroke="#ff1f14" stroke-width="3" stroke-linecap="butt"/>
<circle cx="1514.95" cy="1257.8" r="3" fill="#ff1f14"/>
<line x1="1522.73" y1="1246.2" x2="1522.73" y2="1269.4" stroke="#ff1f14" stroke-width="3" stroke-linecap="butt"/>
<line x1="1517.23" y1="1246.2" x2="1528.23" y2="1246.2" stroke="#ff1f14" stroke-width="3" stroke-linecap="butt"/>
<line x1="1517.23" y1="1269.4" x2="1528.23" y2="1269.4" stroke="#ff1f14" stroke-width="3" stroke-linecap="butt"/>
<circle cx="1522.73" cy="1257.8" r="3" fill="#ff1f14"/>
<line x1="1530.5" y1="1225.5" x2="1530.5" y2="1269.4" stroke="#ff1f14" stroke-width="3" stroke-linecap="butt"/>
<line x1="1525" y1="1225.5" x2="1536" y2="1225.5" stroke="#ff1f14" stroke-width="3" stroke-linecap="butt"/>
<line x1="1525" y1="1269.4" x2="1536" y2="1269.4" stroke="#ff1f14" stroke-width="3" stroke-linecap="butt"/>
<circle cx="1530.5" cy="1247.45" r="3" fill="#ff1f14"/>
<line x1="1538.28" y1="1246.2" x2="1538.28" y2="1269.4" stroke="#ff1f14" stroke-width="3" stroke-linecap="butt"/>
<line x1="1532.78" y1="1246.2" x2="1543.78" y2="1246.2" stroke="#ff1f14" stroke-width="3" stroke-linecap="butt"/>
<line x1="1532.78" y1="1269.4" x2="1543.78" y2="1269.4" stroke="#ff1f14" stroke-width="3" stroke-linecap="butt"/>
<circle cx="1538.28" cy="1257.8" r="3" fill="#ff1f14"/>
<line x1="1546.05" y1="1246.2" x2="1546.05" y2="1269.4" stroke="#ff1f14" stroke-width="3" stroke-linecap="butt"/>
<line x1="1540.55" y1="1246.2" x2="1551.55" y2="1246.2" stroke="#ff1f14" stroke-width="3" stroke-linecap="butt"/>
<line x1="1540.55" y1="1269.4" x2="1551.55" y2="1269.4" stroke="#ff1f14" stroke-width="3" stroke-linecap="butt"/>
<circle cx="1546.05" cy="1257.8" r="3" fill="#ff1f14"/>
<line x1="1553.83" y1="1238" x2="1553.83" y2="1270" stroke="#ff1f14" stroke-width="3" stroke-linecap="butt"/>
<line x1="1548.33" y1="1238" x2="1559.33" y2="1238" stroke="#ff1f14" stroke-width="3" stroke-linecap="butt"/>
<line x1="1548.33" y1="1270" x2="1559.33" y2="1270" stroke="#ff1f14" stroke-width="3" stroke-linecap="butt"/>
<circle cx="1553.83" cy="1254" r="3" fill="#ff1f14"/>
<line x1="1561.6" y1="1238" x2="1561.6" y2="1270" stroke="#ff1f14" stroke-width="3" stroke-linecap="butt"/>
<line x1="1556.1" y1="1238" x2="1567.1" y2="1238" stroke="#ff1f14" stroke-width="3" stroke-linecap="butt"/>
<line x1="1556.1" y1="1270" x2="1567.1" y2="1270" stroke="#ff1f14" stroke-width="3" stroke-linecap="butt"/>
<circle cx="1561.6" cy="1254" r="3" fill="#ff1f14"/>
<line x1="1569.38" y1="1246.2" x2="1569.38" y2="1269.4" stroke="#ff1f14" stroke-width="3" stroke-linecap="butt"/>
<line x1="1563.88" y1="1246.2" x2="1574.88" y2="1246.2" stroke="#ff1f14" stroke-width="3" stroke-linecap="butt"/>
<line x1="1563.88" y1="1269.4" x2="1574.88" y2="1269.4" stroke="#ff1f14" stroke-width="3" stroke-linecap="butt"/>
<circle cx="1569.38" cy="1257.8" r="3" fill="#ff1f14"/>
<line x1="1577.15" y1="1246.2" x2="1577.15" y2="1269.4" stroke="#ff1f14" stroke-width="3" stroke-linecap="butt"/>
<line x1="1571.65" y1="1246.2" x2="1582.65" y2="1246.2" stroke="#ff1f14" stroke-width="3" stroke-linecap="butt"/>
<line x1="1571.65" y1="1269.4" x2="1582.65" y2="1269.4" stroke="#ff1f14" stroke-width="3" stroke-linecap="butt"/>
<circle cx="1577.15" cy="1257.8" r="3" fill="#ff1f14"/>
<line x1="1584.92" y1="1246.2" x2="1584.92" y2="1269.4" stroke="#ff1f14" stroke-width="3" stroke-linecap="butt"/>
<line x1="1579.42" y1="1246.2" x2="1590.42" y2="1246.2" stroke="#ff1f14" stroke-width="3" stroke-linecap="butt"/>
<line x1="1579.42" y1="1269.4" x2="1590.42" y2="1269.4" stroke="#ff1f14" stroke-width="3" stroke-linecap="butt"/>
<circle cx="1584.92" cy="1257.8" r="3" fill="#ff1f14"/>
<line x1="1592.7" y1="1145" x2="1592.7" y2="1198.4" stroke="#ff1f14" stroke-width="3" stroke-linecap="butt"/>
<line x1="1587.2" y1="1145" x2="1598.2" y2="1145" stroke="#ff1f14" stroke-width="3" stroke-linecap="butt"/>
<line x1="1587.2" y1="1198.4" x2="1598.2" y2="1198.4" stroke="#ff1f14" stroke-width="3" stroke-linecap="butt"/>
<circle cx="1592.7" cy="1171.7" r="3" fill="#ff1f14"/>
<line x1="1600.48" y1="1152.6" x2="1600.48" y2="1201" stroke="#ff1f14" stroke-width="3" stroke-linecap="butt"/>
<line x1="1594.98" y1="1152.6" x2="1605.98" y2="1152.6" stroke="#ff1f14" stroke-width="3" stroke-linecap="butt"/>
<line x1="1594.98" y1="1201" x2="1605.98" y2="1201" stroke="#ff1f14" stroke-width="3" stroke-linecap="butt"/>
<circle cx="1600.48" cy="1176.8" r="3" fill="#ff1f14"/>
<line x1="1608.25" y1="1160" x2="1608.25" y2="1208.7" stroke="#ff1f14" stroke-width="3" stroke-linecap="butt"/>
<line x1="1602.75" y1="1160" x2="1613.75" y2="1160" stroke="#ff1f14" stroke-width="3" stroke-linecap="butt"/>
<line x1="1602.75" y1="1208.7" x2="1613.75" y2="1208.7" stroke="#ff1f14" stroke-width="3" stroke-linecap="butt"/>
<circle cx="1608.25" cy="1184.35" r="3" fill="#ff1f14"/>
<line x1="1616.03" y1="1166.5" x2="1616.03" y2="1222.5" stroke="#ff1f14" stroke-width="3" stroke-linecap="butt"/>
<line x1="1610.53" y1="1166.5" x2="1621.53" y2="1166.5" stroke="#ff1f14" stroke-width="3" stroke-linecap="butt"/>
<line x1="1610.53" y1="1222.5" x2="1621.53" y2="1222.5" stroke="#ff1f14" stroke-width="3" stroke-linecap="butt"/>
<circle cx="1616.03" cy="1194.5" r="3" fill="#ff1f14"/>
<line x1="1623.8" y1="1168" x2="1623.8" y2="1229.4" stroke="#ff1f14" stroke-width="3" stroke-linecap="butt"/>
<line x1="1618.3" y1="1168" x2="1629.3" y2="1168" stroke="#ff1f14" stroke-width="3" stroke-linecap="butt"/>
<line x1="1618.3" y1="1229.4" x2="1629.3" y2="1229.4" stroke="#ff1f14" stroke-width="3" stroke-linecap="butt"/>
<circle cx="1623.8" cy="1198.7" r="3" fill="#ff1f14"/>
<line x1="1631.58" y1="1171.7" x2="1631.58" y2="1233.7" stroke="#ff1f14" stroke-width="3" stroke-linecap="butt"/>
<line x1="1626.08" y1="1171.7" x2="1637.08" y2="1171.7" stroke="#ff1f14" stroke-width="3" stroke-linecap="butt"/>
<line x1="1626.08" y1="1233.7" x2="1637.08" y2="1233.7" stroke="#ff1f14" stroke-width="3" stroke-linecap="butt"/>
<circle cx="1631.58" cy="1202.7" r="3" fill="#ff1f14"/>
<line x1="1639.35" y1="1170" x2="1639.35" y2="1229" stroke="#ff1f14" stroke-width="3" stroke-linecap="butt"/>
<line x1="1633.85" y1="1170" x2="1644.85" y2="1170" stroke="#ff1f14" stroke-width="3" stroke-linecap="butt"/>
<line x1="1633.85" y1="1229" x2="1644.85" y2="1229" stroke="#ff1f14" stroke-width="3" stroke-linecap="butt"/>
<circle cx="1639.35" cy="1199.5" r="3" fill="#ff1f14"/>
<line x1="1647.12" y1="1172" x2="1647.12" y2="1231.5" stroke="#ff1f14" stroke-width="3" stroke-linecap="butt"/>
<line x1="1641.62" y1="1172" x2="1652.62" y2="1172" stroke="#ff1f14" stroke-width="3" stroke-linecap="butt"/>
<line x1="1641.62" y1="1231.5" x2="1652.62" y2="1231.5" stroke="#ff1f14" stroke-width="3" stroke-linecap="butt"/>
<circle cx="1647.12" cy="1201.75" r="3" fill="#ff1f14"/>
<line x1="1654.9" y1="1166.5" x2="1654.9" y2="1225.1" stroke="#ff1f14" stroke-width="3" stroke-linecap="butt"/>
<line x1="1649.4" y1="1166.5" x2="1660.4" y2="1166.5" stroke="#ff1f14" stroke-width="3" stroke-linecap="butt"/>
<line x1="1649.4" y1="1225.1" x2="1660.4" y2="1225.1" stroke="#ff1f14" stroke-width="3" stroke-linecap="butt"/>
<circle cx="1654.9" cy="1195.8" r="3" fill="#ff1f14"/>
<line x1="1662.68" y1="1171.7" x2="1662.68" y2="1231.1" stroke="#ff1f14" stroke-width="3" stroke-linecap="butt"/>
<line x1="1657.18" y1="1171.7" x2="1668.18" y2="1171.7" stroke="#ff1f14" stroke-width="3" stroke-linecap="butt"/>
<line x1="1657.18" y1="1231.1" x2="1668.18" y2="1231.1" stroke="#ff1f14" stroke-width="3" stroke-linecap="butt"/>
<circle cx="1662.68" cy="1201.4" r="3" fill="#ff1f14"/>
<line x1="1670.45" y1="1172" x2="1670.45" y2="1230.2" stroke="#ff1f14" stroke-width="3" stroke-linecap="butt"/>
<line x1="1664.95" y1="1172" x2="1675.95" y2="1172" stroke="#ff1f14" stroke-width="3" stroke-linecap="butt"/>
<line x1="1664.95" y1="1230.2" x2="1675.95" y2="1230.2" stroke="#ff1f14" stroke-width="3" stroke-linecap="butt"/>
<circle cx="1670.45" cy="1201.1" r="3" fill="#ff1f14"/>
<line x1="1678.23" y1="1176.8" x2="1678.23" y2="1238.9" stroke="#ff1f14" stroke-width="3" stroke-linecap="butt"/>
<line x1="1672.73" y1="1176.8" x2="1683.73" y2="1176.8" stroke="#ff1f14" stroke-width="3" stroke-linecap="butt"/>
<line x1="1672.73" y1="1238.9" x2="1683.73" y2="1238.9" stroke="#ff1f14" stroke-width="3" stroke-linecap="butt"/>
<circle cx="1678.23" cy="1207.85" r="3" fill="#ff1f14"/>
<line x1="1686" y1="1168" x2="1686" y2="1227.2" stroke="#ff1f14" stroke-width="3" stroke-linecap="butt"/>
<line x1="1680.5" y1="1168" x2="1691.5" y2="1168" stroke="#ff1f14" stroke-width="3" stroke-linecap="butt"/>
<line x1="1680.5" y1="1227.2" x2="1691.5" y2="1227.2" stroke="#ff1f14" stroke-width="3" stroke-linecap="butt"/>
<circle cx="1686" cy="1197.6" r="3" fill="#ff1f14"/>
<line x1="1693.78" y1="1171" x2="1693.78" y2="1229" stroke="#ff1f14" stroke-width="3" stroke-linecap="butt"/>
<line x1="1688.28" y1="1171" x2="1699.28" y2="1171" stroke="#ff1f14" stroke-width="3" stroke-linecap="butt"/>
<line x1="1688.28" y1="1229" x2="1699.28" y2="1229" stroke="#ff1f14" stroke-width="3" stroke-linecap="butt"/>
<circle cx="1693.78" cy="1200" r="3" fill="#ff1f14"/>
<line x1="1701.55" y1="1176.8" x2="1701.55" y2="1235.4" stroke="#ff1f14" stroke-width="3" stroke-linecap="butt"/>
<line x1="1696.05" y1="1176.8" x2="1707.05" y2="1176.8" stroke="#ff1f14" stroke-width="3" stroke-linecap="butt"/>
<line x1="1696.05" y1="1235.4" x2="1707.05" y2="1235.4" stroke="#ff1f14" stroke-width="3" stroke-linecap="butt"/>
<circle cx="1701.55" cy="1206.1" r="3" fill="#ff1f14"/>
<line x1="1709.33" y1="1172" x2="1709.33" y2="1231.5" stroke="#ff1f14" stroke-width="3" stroke-linecap="butt"/>
<line x1="1703.83" y1="1172" x2="1714.83" y2="1172" stroke="#ff1f14" stroke-width="3" stroke-linecap="butt"/>
<line x1="1703.83" y1="1231.5" x2="1714.83" y2="1231.5" stroke="#ff1f14" stroke-width="3" stroke-linecap="butt"/>
<circle cx="1709.33" cy="1201.75" r="3" fill="#ff1f14"/>
<line x1="1717.1" y1="1178" x2="1717.1" y2="1237.1" stroke="#ff1f14" stroke-width="3" stroke-linecap="butt"/>
<line x1="1711.6" y1="1178" x2="1722.6" y2="1178" stroke="#ff1f14" stroke-width="3" stroke-linecap="butt"/>
<line x1="1711.6" y1="1237.1" x2="1722.6" y2="1237.1" stroke="#ff1f14" stroke-width="3" stroke-linecap="butt"/>
<circle cx="1717.1" cy="1207.55" r="3" fill="#ff1f14"/>
<line x1="1724.88" y1="1172" x2="1724.88" y2="1232" stroke="#ff1f14" stroke-width="3" stroke-linecap="butt"/>
<line x1="1719.38" y1="1172" x2="1730.38" y2="1172" stroke="#ff1f14" stroke-width="3" stroke-linecap="butt"/>
<line x1="1719.38" y1="1232" x2="1730.38" y2="1232" stroke="#ff1f14" stroke-width="3" stroke-linecap="butt"/>
<circle cx="1724.88" cy="1202" r="3" fill="#ff1f14"/>
<line x1="1732.65" y1="1176" x2="1732.65" y2="1234.6" stroke="#ff1f14" stroke-width="3" stroke-linecap="butt"/>
<line x1="1727.15" y1="1176" x2="1738.15" y2="1176" stroke="#ff1f14" stroke-width="3" stroke-linecap="butt"/>
<line x1="1727.15" y1="1234.6" x2="1738.15" y2="1234.6" stroke="#ff1f14" stroke-width="3" stroke-linecap="butt"/>
<circle cx="1732.65" cy="1205.3" r="3" fill="#ff1f14"/>
<line x1="1740.43" y1="1180" x2="1740.43" y2="1234.6" stroke="#ff1f14" stroke-width="3" stroke-linecap="butt"/>
<line x1="1734.93" y1="1180" x2="1745.93" y2="1180" stroke="#ff1f14" stroke-width="3" stroke-linecap="butt"/>
<line x1="1734.93" y1="1234.6" x2="1745.93" y2="1234.6" stroke="#ff1f14" stroke-width="3" stroke-linecap="butt"/>
<circle cx="1740.43" cy="1207.3" r="3" fill="#ff1f14"/>
<line x1="1748.2" y1="1182.2" x2="1748.2" y2="1236.5" stroke="#ff1f14" stroke-width="3" stroke-linecap="butt"/>
<line x1="1742.7" y1="1182.2" x2="1753.7" y2="1182.2" stroke="#ff1f14" stroke-width="3" stroke-linecap="butt"/>
<line x1="1742.7" y1="1236.5" x2="1753.7" y2="1236.5" stroke="#ff1f14" stroke-width="3" stroke-linecap="butt"/>
<circle cx="1748.2" cy="1209.35" r="3" fill="#ff1f14"/>
<line x1="1755.98" y1="1182.2" x2="1755.98" y2="1240.3" stroke="#ff1f14" stroke-width="3" stroke-linecap="butt"/>
<line x1="1750.48" y1="1182.2" x2="1761.48" y2="1182.2" stroke="#ff1f14" stroke-width="3" stroke-linecap="butt"/>
<line x1="1750.48" y1="1240.3" x2="1761.48" y2="1240.3" stroke="#ff1f14" stroke-width="3" stroke-linecap="butt"/>
<circle cx="1755.98" cy="1211.25" r="3" fill="#ff1f14"/>
<line x1="1763.75" y1="1187" x2="1763.75" y2="1236.9" stroke="#ff1f14" stroke-width="3" stroke-linecap="butt"/>
<line x1="1758.25" y1="1187" x2="1769.25" y2="1187" stroke="#ff1f14" stroke-width="3" stroke-linecap="butt"/>
<line x1="1758.25" y1="1236.9" x2="1769.25" y2="1236.9" stroke="#ff1f14" stroke-width="3" stroke-linecap="butt"/>
<circle cx="1763.75" cy="1211.95" r="3" fill="#ff1f14"/>
<line x1="1771.53" y1="1180" x2="1771.53" y2="1227.9" stroke="#ff1f14" stroke-width="3" stroke-linecap="butt"/>
<line x1="1766.03" y1="1180" x2="1777.03" y2="1180" stroke="#ff1f14" stroke-width="3" stroke-linecap="butt"/>
<line x1="1766.03" y1="1227.9" x2="1777.03" y2="1227.9" stroke="#ff1f14" stroke-width="3" stroke-linecap="butt"/>
<circle cx="1771.53" cy="1203.95" r="3" fill="#ff1f14"/>
<line x1="1779.3" y1="1182" x2="1779.3" y2="1229.6" stroke="#ff1f14" stroke-width="3" stroke-linecap="butt"/>
<line x1="1773.8" y1="1182" x2="1784.8" y2="1182" stroke="#ff1f14" stroke-width="3" stroke-linecap="butt"/>
<line x1="1773.8" y1="1229.6" x2="1784.8" y2="1229.6" stroke="#ff1f14" stroke-width="3" stroke-linecap="butt"/>
<circle cx="1779.3" cy="1205.8" r="3" fill="#ff1f14"/>
<line x1="1787.08" y1="1183.5" x2="1787.08" y2="1242.9" stroke="#ff1f14" stroke-width="3" stroke-linecap="butt"/>
<line x1="1781.58" y1="1183.5" x2="1792.58" y2="1183.5" stroke="#ff1f14" stroke-width="3" stroke-linecap="butt"/>
<line x1="1781.58" y1="1242.9" x2="1792.58" y2="1242.9" stroke="#ff1f14" stroke-width="3" stroke-linecap="butt"/>
<circle cx="1787.08" cy="1213.2" r="3" fill="#ff1f14"/>
<line x1="1794.85" y1="1190" x2="1794.85" y2="1234.3" stroke="#ff1f14" stroke-width="3" stroke-linecap="butt"/>
<line x1="1789.35" y1="1190" x2="1800.35" y2="1190" stroke="#ff1f14" stroke-width="3" stroke-linecap="butt"/>
<line x1="1789.35" y1="1234.3" x2="1800.35" y2="1234.3" stroke="#ff1f14" stroke-width="3" stroke-linecap="butt"/>
<circle cx="1794.85" cy="1212.15" r="3" fill="#ff1f14"/>
<line x1="1802.62" y1="1186.5" x2="1802.62" y2="1239.9" stroke="#ff1f14" stroke-width="3" stroke-linecap="butt"/>
<line x1="1797.12" y1="1186.5" x2="1808.12" y2="1186.5" stroke="#ff1f14" stroke-width="3" stroke-linecap="butt"/>
<line x1="1797.12" y1="1239.9" x2="1808.12" y2="1239.9" stroke="#ff1f14" stroke-width="3" stroke-linecap="butt"/>
<circle cx="1802.62" cy="1213.2" r="3" fill="#ff1f14"/>
<line x1="1810.4" y1="1190" x2="1810.4" y2="1235.6" stroke="#ff1f14" stroke-width="3" stroke-linecap="butt"/>
<line x1="1804.9" y1="1190" x2="1815.9" y2="1190" stroke="#ff1f14" stroke-width="3" stroke-linecap="butt"/>
<line x1="1804.9" y1="1235.6" x2="1815.9" y2="1235.6" stroke="#ff1f14" stroke-width="3" stroke-linecap="butt"/>
<circle cx="1810.4" cy="1212.8" r="3" fill="#ff1f14"/>
<line x1="1818.18" y1="1190" x2="1818.18" y2="1228.7" stroke="#ff1f14" stroke-width="3" stroke-linecap="butt"/>
<line x1="1812.68" y1="1190" x2="1823.68" y2="1190" stroke="#ff1f14" stroke-width="3" stroke-linecap="butt"/>
<line x1="1812.68" y1="1228.7" x2="1823.68" y2="1228.7" stroke="#ff1f14" stroke-width="3" stroke-linecap="butt"/>
<circle cx="1818.18" cy="1209.35" r="3" fill="#ff1f14"/>
<line x1="1825.95" y1="1190" x2="1825.95" y2="1239" stroke="#ff1f14" stroke-width="3" stroke-linecap="butt"/>
<line x1="1820.45" y1="1190" x2="1831.45" y2="1190" stroke="#ff1f14" stroke-width="3" stroke-linecap="butt"/>
<line x1="1820.45" y1="1239" x2="1831.45" y2="1239" stroke="#ff1f14" stroke-width="3" stroke-linecap="butt"/>
<circle cx="1825.95" cy="1214.5" r="3" fill="#ff1f14"/>
<line x1="1833.73" y1="1186.5" x2="1833.73" y2="1244.6" stroke="#ff1f14" stroke-width="3" stroke-linecap="butt"/>
<line x1="1828.23" y1="1186.5" x2="1839.23" y2="1186.5" stroke="#ff1f14" stroke-width="3" stroke-linecap="butt"/>
<line x1="1828.23" y1="1244.6" x2="1839.23" y2="1244.6" stroke="#ff1f14" stroke-width="3" stroke-linecap="butt"/>
<circle cx="1833.73" cy="1215.55" r="3" fill="#ff1f14"/>
<line x1="1841.5" y1="1193.4" x2="1841.5" y2="1239.9" stroke="#ff1f14" stroke-width="3" stroke-linecap="butt"/>
<line x1="1836" y1="1193.4" x2="1847" y2="1193.4" stroke="#ff1f14" stroke-width="3" stroke-linecap="butt"/>
<line x1="1836" y1="1239.9" x2="1847" y2="1239.9" stroke="#ff1f14" stroke-width="3" stroke-linecap="butt"/>
<circle cx="1841.5" cy="1216.65" r="3" fill="#ff1f14"/>
<line x1="1849.28" y1="1175.7" x2="1849.28" y2="1253.7" stroke="#ff1f14" stroke-width="3" stroke-linecap="butt"/>
<line x1="1843.78" y1="1175.7" x2="1854.78" y2="1175.7" stroke="#ff1f14" stroke-width="3" stroke-linecap="butt"/>
<line x1="1843.78" y1="1253.7" x2="1854.78" y2="1253.7" stroke="#ff1f14" stroke-width="3" stroke-linecap="butt"/>
<circle cx="1849.28" cy="1214.7" r="3" fill="#ff1f14"/>
<line x1="1857.05" y1="1169.3" x2="1857.05" y2="1263.6" stroke="#ff1f14" stroke-width="3" stroke-linecap="butt"/>
<line x1="1851.55" y1="1169.3" x2="1862.55" y2="1169.3" stroke="#ff1f14" stroke-width="3" stroke-linecap="butt"/>
<line x1="1851.55" y1="1263.6" x2="1862.55" y2="1263.6" stroke="#ff1f14" stroke-width="3" stroke-linecap="butt"/>
<circle cx="1857.05" cy="1216.45" r="3" fill="#ff1f14"/>
<line x1="1864.83" y1="1176" x2="1864.83" y2="1263.2" stroke="#ff1f14" stroke-width="3" stroke-linecap="butt"/>
<line x1="1859.33" y1="1176" x2="1870.33" y2="1176" stroke="#ff1f14" stroke-width="3" stroke-linecap="butt"/>
<line x1="1859.33" y1="1263.2" x2="1870.33" y2="1263.2" stroke="#ff1f14" stroke-width="3" stroke-linecap="butt"/>
<circle cx="1864.83" cy="1219.6" r="3" fill="#ff1f14"/>
<line x1="1872.6" y1="1173.2" x2="1872.6" y2="1265.3" stroke="#ff1f14" stroke-width="3" stroke-linecap="butt"/>
<line x1="1867.1" y1="1173.2" x2="1878.1" y2="1173.2" stroke="#ff1f14" stroke-width="3" stroke-linecap="butt"/>
<line x1="1867.1" y1="1265.3" x2="1878.1" y2="1265.3" stroke="#ff1f14" stroke-width="3" stroke-linecap="butt"/>
<circle cx="1872.6" cy="1219.25" r="3" fill="#ff1f14"/>
<line x1="1880.38" y1="1164.1" x2="1880.38" y2="1273.1" stroke="#ff1f14" stroke-width="3" stroke-linecap="butt"/>
<line x1="1874.88" y1="1164.1" x2="1885.88" y2="1164.1" stroke="#ff1f14" stroke-width="3" stroke-linecap="butt"/>
<line x1="1874.88" y1="1273.1" x2="1885.88" y2="1273.1" stroke="#ff1f14" stroke-width="3" stroke-linecap="butt"/>
<circle cx="1880.38" cy="1218.6" r="3" fill="#ff1f14"/>
<line x1="1888.15" y1="1183.1" x2="1888.15" y2="1261.4" stroke="#ff1f14" stroke-width="3" stroke-linecap="butt"/>
<line x1="1882.65" y1="1183.1" x2="1893.65" y2="1183.1" stroke="#ff1f14" stroke-width="3" stroke-linecap="butt"/>
<line x1="1882.65" y1="1261.4" x2="1893.65" y2="1261.4" stroke="#ff1f14" stroke-width="3" stroke-linecap="butt"/>
<circle cx="1888.15" cy="1222.25" r="3" fill="#ff1f14"/>
<line x1="1895.93" y1="1186.5" x2="1895.93" y2="1258.9" stroke="#ff1f14" stroke-width="3" stroke-linecap="butt"/>
<line x1="1890.43" y1="1186.5" x2="1901.43" y2="1186.5" stroke="#ff1f14" stroke-width="3" stroke-linecap="butt"/>
<line x1="1890.43" y1="1258.9" x2="1901.43" y2="1258.9" stroke="#ff1f14" stroke-width="3" stroke-linecap="butt"/>
<circle cx="1895.93" cy="1222.7" r="3" fill="#ff1f14"/>
<line x1="1903.7" y1="1181.3" x2="1903.7" y2="1270.1" stroke="#ff1f14" stroke-width="3" stroke-linecap="butt"/>
<line x1="1898.2" y1="1181.3" x2="1909.2" y2="1181.3" stroke="#ff1f14" stroke-width="3" stroke-linecap="butt"/>
<line x1="1898.2" y1="1270.1" x2="1909.2" y2="1270.1" stroke="#ff1f14" stroke-width="3" stroke-linecap="butt"/>
<circle cx="1903.7" cy="1225.7" r="3" fill="#ff1f14"/>
<line x1="1437.2" y1="1225.9" x2="1437.2" y2="1281.5" stroke="#000" stroke-width="3" stroke-linecap="butt"/>
<line x1="1431.7" y1="1225.9" x2="1442.7" y2="1225.9" stroke="#000" stroke-width="3" stroke-linecap="butt"/>
<line x1="1431.7" y1="1281.5" x2="1442.7" y2="1281.5" stroke="#000" stroke-width="3" stroke-linecap="butt"/>
<circle cx="1437.2" cy="1253.9" r="3.2" fill="#000"/>
<line x1="1444.98" y1="1240.1" x2="1444.98" y2="1272.4" stroke="#000" stroke-width="3" stroke-linecap="butt"/>
<line x1="1439.48" y1="1240.1" x2="1450.48" y2="1240.1" stroke="#000" stroke-width="3" stroke-linecap="butt"/>
<line x1="1439.48" y1="1272.4" x2="1450.48" y2="1272.4" stroke="#000" stroke-width="3" stroke-linecap="butt"/>
<circle cx="1444.98" cy="1256.5" r="3.2" fill="#000"/>
<line x1="1452.75" y1="1244.9" x2="1452.75" y2="1266.8" stroke="#000" stroke-width="3" stroke-linecap="butt"/>
<line x1="1447.25" y1="1244.9" x2="1458.25" y2="1244.9" stroke="#000" stroke-width="3" stroke-linecap="butt"/>
<line x1="1447.25" y1="1266.8" x2="1458.25" y2="1266.8" stroke="#000" stroke-width="3" stroke-linecap="butt"/>
<circle cx="1452.75" cy="1256.1" r="3.2" fill="#000"/>
<line x1="1460.53" y1="1227.2" x2="1460.53" y2="1278" stroke="#000" stroke-width="3" stroke-linecap="butt"/>
<line x1="1455.03" y1="1227.2" x2="1466.03" y2="1227.2" stroke="#000" stroke-width="3" stroke-linecap="butt"/>
<line x1="1455.03" y1="1278" x2="1466.03" y2="1278" stroke="#000" stroke-width="3" stroke-linecap="butt"/>
<circle cx="1460.53" cy="1252.6" r="3.2" fill="#000"/>
<line x1="1468.3" y1="1225.5" x2="1468.3" y2="1277.6" stroke="#000" stroke-width="3" stroke-linecap="butt"/>
<line x1="1462.8" y1="1225.5" x2="1473.8" y2="1225.5" stroke="#000" stroke-width="3" stroke-linecap="butt"/>
<line x1="1462.8" y1="1277.6" x2="1473.8" y2="1277.6" stroke="#000" stroke-width="3" stroke-linecap="butt"/>
<circle cx="1468.3" cy="1250" r="3.2" fill="#000"/>
<line x1="1476.08" y1="1228.1" x2="1476.08" y2="1275.5" stroke="#000" stroke-width="3" stroke-linecap="butt"/>
<line x1="1470.58" y1="1228.1" x2="1481.58" y2="1228.1" stroke="#000" stroke-width="3" stroke-linecap="butt"/>
<line x1="1470.58" y1="1275.5" x2="1481.58" y2="1275.5" stroke="#000" stroke-width="3" stroke-linecap="butt"/>
<circle cx="1476.08" cy="1251.3" r="3.2" fill="#000"/>
<line x1="1483.85" y1="1224.2" x2="1483.85" y2="1275.5" stroke="#000" stroke-width="3" stroke-linecap="butt"/>
<line x1="1478.35" y1="1224.2" x2="1489.35" y2="1224.2" stroke="#000" stroke-width="3" stroke-linecap="butt"/>
<line x1="1478.35" y1="1275.5" x2="1489.35" y2="1275.5" stroke="#000" stroke-width="3" stroke-linecap="butt"/>
<circle cx="1483.85" cy="1249.6" r="3.2" fill="#000"/>
<line x1="1491.62" y1="1231.1" x2="1491.62" y2="1268.6" stroke="#000" stroke-width="3" stroke-linecap="butt"/>
<line x1="1486.12" y1="1231.1" x2="1497.12" y2="1231.1" stroke="#000" stroke-width="3" stroke-linecap="butt"/>
<line x1="1486.12" y1="1268.6" x2="1497.12" y2="1268.6" stroke="#000" stroke-width="3" stroke-linecap="butt"/>
<circle cx="1491.62" cy="1249.2" r="3.2" fill="#000"/>
<line x1="1499.4" y1="1216.5" x2="1499.4" y2="1280.2" stroke="#000" stroke-width="3" stroke-linecap="butt"/>
<line x1="1493.9" y1="1216.5" x2="1504.9" y2="1216.5" stroke="#000" stroke-width="3" stroke-linecap="butt"/>
<line x1="1493.9" y1="1280.2" x2="1504.9" y2="1280.2" stroke="#000" stroke-width="3" stroke-linecap="butt"/>
<circle cx="1499.4" cy="1248.8" r="3.2" fill="#000"/>
<line x1="1507.17" y1="1222.5" x2="1507.17" y2="1273.7" stroke="#000" stroke-width="3" stroke-linecap="butt"/>
<line x1="1501.67" y1="1222.5" x2="1512.67" y2="1222.5" stroke="#000" stroke-width="3" stroke-linecap="butt"/>
<line x1="1501.67" y1="1273.7" x2="1512.67" y2="1273.7" stroke="#000" stroke-width="3" stroke-linecap="butt"/>
<circle cx="1507.17" cy="1247.9" r="3.2" fill="#000"/>
<line x1="1514.95" y1="1228.5" x2="1514.95" y2="1266.8" stroke="#000" stroke-width="3" stroke-linecap="butt"/>
<line x1="1509.45" y1="1228.5" x2="1520.45" y2="1228.5" stroke="#000" stroke-width="3" stroke-linecap="butt"/>
<line x1="1509.45" y1="1266.8" x2="1520.45" y2="1266.8" stroke="#000" stroke-width="3" stroke-linecap="butt"/>
<circle cx="1514.95" cy="1247" r="3.2" fill="#000"/>
<line x1="1522.73" y1="1226.8" x2="1522.73" y2="1268.1" stroke="#000" stroke-width="3" stroke-linecap="butt"/>
<line x1="1517.23" y1="1226.8" x2="1528.23" y2="1226.8" stroke="#000" stroke-width="3" stroke-linecap="butt"/>
<line x1="1517.23" y1="1268.1" x2="1528.23" y2="1268.1" stroke="#000" stroke-width="3" stroke-linecap="butt"/>
<circle cx="1522.73" cy="1247.9" r="3.2" fill="#000"/>
<line x1="1530.5" y1="1217.8" x2="1530.5" y2="1277.6" stroke="#000" stroke-width="3" stroke-linecap="butt"/>
<line x1="1525" y1="1217.8" x2="1536" y2="1217.8" stroke="#000" stroke-width="3" stroke-linecap="butt"/>
<line x1="1525" y1="1277.6" x2="1536" y2="1277.6" stroke="#000" stroke-width="3" stroke-linecap="butt"/>
<circle cx="1530.5" cy="1247.9" r="3.2" fill="#000"/>
<line x1="1538.28" y1="1234.1" x2="1538.28" y2="1261.7" stroke="#000" stroke-width="3" stroke-linecap="butt"/>
<line x1="1532.78" y1="1234.1" x2="1543.78" y2="1234.1" stroke="#000" stroke-width="3" stroke-linecap="butt"/>
<line x1="1532.78" y1="1261.7" x2="1543.78" y2="1261.7" stroke="#000" stroke-width="3" stroke-linecap="butt"/>
<circle cx="1538.28" cy="1247.9" r="3.2" fill="#000"/>
<line x1="1546.05" y1="1235" x2="1546.05" y2="1261.7" stroke="#000" stroke-width="3" stroke-linecap="butt"/>
<line x1="1540.55" y1="1235" x2="1551.55" y2="1235" stroke="#000" stroke-width="3" stroke-linecap="butt"/>
<line x1="1540.55" y1="1261.7" x2="1551.55" y2="1261.7" stroke="#000" stroke-width="3" stroke-linecap="butt"/>
<circle cx="1546.05" cy="1248.8" r="3.2" fill="#000"/>
<line x1="1553.83" y1="1228.1" x2="1553.83" y2="1267.3" stroke="#000" stroke-width="3" stroke-linecap="butt"/>
<line x1="1548.33" y1="1228.1" x2="1559.33" y2="1228.1" stroke="#000" stroke-width="3" stroke-linecap="butt"/>
<line x1="1548.33" y1="1267.3" x2="1559.33" y2="1267.3" stroke="#000" stroke-width="3" stroke-linecap="butt"/>
<circle cx="1553.83" cy="1247.9" r="3.2" fill="#000"/>
<line x1="1561.6" y1="1223.4" x2="1561.6" y2="1272.9" stroke="#000" stroke-width="3" stroke-linecap="butt"/>
<line x1="1556.1" y1="1223.4" x2="1567.1" y2="1223.4" stroke="#000" stroke-width="3" stroke-linecap="butt"/>
<line x1="1556.1" y1="1272.9" x2="1567.1" y2="1272.9" stroke="#000" stroke-width="3" stroke-linecap="butt"/>
<circle cx="1561.6" cy="1247.9" r="3.2" fill="#000"/>
<line x1="1569.38" y1="1223.4" x2="1569.38" y2="1276.3" stroke="#000" stroke-width="3" stroke-linecap="butt"/>
<line x1="1563.88" y1="1223.4" x2="1574.88" y2="1223.4" stroke="#000" stroke-width="3" stroke-linecap="butt"/>
<line x1="1563.88" y1="1276.3" x2="1574.88" y2="1276.3" stroke="#000" stroke-width="3" stroke-linecap="butt"/>
<circle cx="1569.38" cy="1249.6" r="3.2" fill="#000"/>
<line x1="1577.15" y1="1226.4" x2="1577.15" y2="1273.7" stroke="#000" stroke-width="3" stroke-linecap="butt"/>
<line x1="1571.65" y1="1226.4" x2="1582.65" y2="1226.4" stroke="#000" stroke-width="3" stroke-linecap="butt"/>
<line x1="1571.65" y1="1273.7" x2="1582.65" y2="1273.7" stroke="#000" stroke-width="3" stroke-linecap="butt"/>
<circle cx="1577.15" cy="1249.6" r="3.2" fill="#000"/>
<line x1="1584.92" y1="1232.8" x2="1584.92" y2="1262.1" stroke="#000" stroke-width="3" stroke-linecap="butt"/>
<line x1="1579.42" y1="1232.8" x2="1590.42" y2="1232.8" stroke="#000" stroke-width="3" stroke-linecap="butt"/>
<line x1="1579.42" y1="1262.1" x2="1590.42" y2="1262.1" stroke="#000" stroke-width="3" stroke-linecap="butt"/>
<circle cx="1584.92" cy="1247.5" r="3.2" fill="#000"/>
<line x1="1592.7" y1="1130.8" x2="1592.7" y2="1193.6" stroke="#000" stroke-width="3" stroke-linecap="butt"/>
<line x1="1587.2" y1="1130.8" x2="1598.2" y2="1130.8" stroke="#000" stroke-width="3" stroke-linecap="butt"/>
<line x1="1587.2" y1="1193.6" x2="1598.2" y2="1193.6" stroke="#000" stroke-width="3" stroke-linecap="butt"/>
<circle cx="1592.7" cy="1162.2" r="3.2" fill="#000"/>
<line x1="1600.48" y1="1135.1" x2="1600.48" y2="1194.9" stroke="#000" stroke-width="3" stroke-linecap="butt"/>
<line x1="1594.98" y1="1135.1" x2="1605.98" y2="1135.1" stroke="#000" stroke-width="3" stroke-linecap="butt"/>
<line x1="1594.98" y1="1194.9" x2="1605.98" y2="1194.9" stroke="#000" stroke-width="3" stroke-linecap="butt"/>
<circle cx="1600.48" cy="1165.2" r="3.2" fill="#000"/>
<line x1="1608.25" y1="1137.7" x2="1608.25" y2="1197.5" stroke="#000" stroke-width="3" stroke-linecap="butt"/>
<line x1="1602.75" y1="1137.7" x2="1613.75" y2="1137.7" stroke="#000" stroke-width="3" stroke-linecap="butt"/>
<line x1="1602.75" y1="1197.5" x2="1613.75" y2="1197.5" stroke="#000" stroke-width="3" stroke-linecap="butt"/>
<circle cx="1608.25" cy="1166.9" r="3.2" fill="#000"/>
<line x1="1616.03" y1="1145" x2="1616.03" y2="1193.6" stroke="#000" stroke-width="3" stroke-linecap="butt"/>
<line x1="1610.53" y1="1145" x2="1621.53" y2="1145" stroke="#000" stroke-width="3" stroke-linecap="butt"/>
<line x1="1610.53" y1="1193.6" x2="1621.53" y2="1193.6" stroke="#000" stroke-width="3" stroke-linecap="butt"/>
<circle cx="1616.03" cy="1169.5" r="3.2" fill="#000"/>
<line x1="1623.8" y1="1144.1" x2="1623.8" y2="1207.4" stroke="#000" stroke-width="3" stroke-linecap="butt"/>
<line x1="1618.3" y1="1144.1" x2="1629.3" y2="1144.1" stroke="#000" stroke-width="3" stroke-linecap="butt"/>
<line x1="1618.3" y1="1207.4" x2="1629.3" y2="1207.4" stroke="#000" stroke-width="3" stroke-linecap="butt"/>
<circle cx="1623.8" cy="1175.6" r="3.2" fill="#000"/>
<line x1="1631.58" y1="1138.1" x2="1631.58" y2="1210" stroke="#000" stroke-width="3" stroke-linecap="butt"/>
<line x1="1626.08" y1="1138.1" x2="1637.08" y2="1138.1" stroke="#000" stroke-width="3" stroke-linecap="butt"/>
<line x1="1626.08" y1="1210" x2="1637.08" y2="1210" stroke="#000" stroke-width="3" stroke-linecap="butt"/>
<circle cx="1631.58" cy="1173.8" r="3.2" fill="#000"/>
<line x1="1639.35" y1="1147.6" x2="1639.35" y2="1202.3" stroke="#000" stroke-width="3" stroke-linecap="butt"/>
<line x1="1633.85" y1="1147.6" x2="1644.85" y2="1147.6" stroke="#000" stroke-width="3" stroke-linecap="butt"/>
<line x1="1633.85" y1="1202.3" x2="1644.85" y2="1202.3" stroke="#000" stroke-width="3" stroke-linecap="butt"/>
<circle cx="1639.35" cy="1174.7" r="3.2" fill="#000"/>
<line x1="1647.12" y1="1153.6" x2="1647.12" y2="1199.2" stroke="#000" stroke-width="3" stroke-linecap="butt"/>
<line x1="1641.62" y1="1153.6" x2="1652.62" y2="1153.6" stroke="#000" stroke-width="3" stroke-linecap="butt"/>
<line x1="1641.62" y1="1199.2" x2="1652.62" y2="1199.2" stroke="#000" stroke-width="3" stroke-linecap="butt"/>
<circle cx="1647.12" cy="1176.8" r="3.2" fill="#000"/>
<line x1="1654.9" y1="1148.4" x2="1654.9" y2="1204" stroke="#000" stroke-width="3" stroke-linecap="butt"/>
<line x1="1649.4" y1="1148.4" x2="1660.4" y2="1148.4" stroke="#000" stroke-width="3" stroke-linecap="butt"/>
<line x1="1649.4" y1="1204" x2="1660.4" y2="1204" stroke="#000" stroke-width="3" stroke-linecap="butt"/>
<circle cx="1654.9" cy="1176" r="3.2" fill="#000"/>
<line x1="1662.68" y1="1149.7" x2="1662.68" y2="1211.7" stroke="#000" stroke-width="3" stroke-linecap="butt"/>
<line x1="1657.18" y1="1149.7" x2="1668.18" y2="1149.7" stroke="#000" stroke-width="3" stroke-linecap="butt"/>
<line x1="1657.18" y1="1211.7" x2="1668.18" y2="1211.7" stroke="#000" stroke-width="3" stroke-linecap="butt"/>
<circle cx="1662.68" cy="1181.2" r="3.2" fill="#000"/>
<line x1="1670.45" y1="1140.7" x2="1670.45" y2="1208.3" stroke="#000" stroke-width="3" stroke-linecap="butt"/>
<line x1="1664.95" y1="1140.7" x2="1675.95" y2="1140.7" stroke="#000" stroke-width="3" stroke-linecap="butt"/>
<line x1="1664.95" y1="1208.3" x2="1675.95" y2="1208.3" stroke="#000" stroke-width="3" stroke-linecap="butt"/>
<circle cx="1670.45" cy="1174.3" r="3.2" fill="#000"/>
<line x1="1678.23" y1="1152.7" x2="1678.23" y2="1204" stroke="#000" stroke-width="3" stroke-linecap="butt"/>
<line x1="1672.73" y1="1152.7" x2="1683.73" y2="1152.7" stroke="#000" stroke-width="3" stroke-linecap="butt"/>
<line x1="1672.73" y1="1204" x2="1683.73" y2="1204" stroke="#000" stroke-width="3" stroke-linecap="butt"/>
<circle cx="1678.23" cy="1178.6" r="3.2" fill="#000"/>
<line x1="1686" y1="1153.6" x2="1686" y2="1208.3" stroke="#000" stroke-width="3" stroke-linecap="butt"/>
<line x1="1680.5" y1="1153.6" x2="1691.5" y2="1153.6" stroke="#000" stroke-width="3" stroke-linecap="butt"/>
<line x1="1680.5" y1="1208.3" x2="1691.5" y2="1208.3" stroke="#000" stroke-width="3" stroke-linecap="butt"/>
<circle cx="1686" cy="1181.2" r="3.2" fill="#000"/>
<line x1="1693.78" y1="1154" x2="1693.78" y2="1207.9" stroke="#000" stroke-width="3" stroke-linecap="butt"/>
<line x1="1688.28" y1="1154" x2="1699.28" y2="1154" stroke="#000" stroke-width="3" stroke-linecap="butt"/>
<line x1="1688.28" y1="1207.9" x2="1699.28" y2="1207.9" stroke="#000" stroke-width="3" stroke-linecap="butt"/>
<circle cx="1693.78" cy="1180.7" r="3.2" fill="#000"/>
<line x1="1701.55" y1="1160" x2="1701.55" y2="1207" stroke="#000" stroke-width="3" stroke-linecap="butt"/>
<line x1="1696.05" y1="1160" x2="1707.05" y2="1160" stroke="#000" stroke-width="3" stroke-linecap="butt"/>
<line x1="1696.05" y1="1207" x2="1707.05" y2="1207" stroke="#000" stroke-width="3" stroke-linecap="butt"/>
<circle cx="1701.55" cy="1182.4" r="3.2" fill="#000"/>
<line x1="1709.33" y1="1157" x2="1709.33" y2="1215.6" stroke="#000" stroke-width="3" stroke-linecap="butt"/>
<line x1="1703.83" y1="1157" x2="1714.83" y2="1157" stroke="#000" stroke-width="3" stroke-linecap="butt"/>
<line x1="1703.83" y1="1215.6" x2="1714.83" y2="1215.6" stroke="#000" stroke-width="3" stroke-linecap="butt"/>
<circle cx="1709.33" cy="1186.3" r="3.2" fill="#000"/>
<line x1="1717.1" y1="1154" x2="1717.1" y2="1211.7" stroke="#000" stroke-width="3" stroke-linecap="butt"/>
<line x1="1711.6" y1="1154" x2="1722.6" y2="1154" stroke="#000" stroke-width="3" stroke-linecap="butt"/>
<line x1="1711.6" y1="1211.7" x2="1722.6" y2="1211.7" stroke="#000" stroke-width="3" stroke-linecap="butt"/>
<circle cx="1717.1" cy="1182.9" r="3.2" fill="#000"/>
<line x1="1724.88" y1="1156.2" x2="1724.88" y2="1218.6" stroke="#000" stroke-width="3" stroke-linecap="butt"/>
<line x1="1719.38" y1="1156.2" x2="1730.38" y2="1156.2" stroke="#000" stroke-width="3" stroke-linecap="butt"/>
<line x1="1719.38" y1="1218.6" x2="1730.38" y2="1218.6" stroke="#000" stroke-width="3" stroke-linecap="butt"/>
<circle cx="1724.88" cy="1188" r="3.2" fill="#000"/>
<line x1="1732.65" y1="1163.9" x2="1732.65" y2="1214.7" stroke="#000" stroke-width="3" stroke-linecap="butt"/>
<line x1="1727.15" y1="1163.9" x2="1738.15" y2="1163.9" stroke="#000" stroke-width="3" stroke-linecap="butt"/>
<line x1="1727.15" y1="1214.7" x2="1738.15" y2="1214.7" stroke="#000" stroke-width="3" stroke-linecap="butt"/>
<circle cx="1732.65" cy="1190.2" r="3.2" fill="#000"/>
<line x1="1740.43" y1="1168.2" x2="1740.43" y2="1216.5" stroke="#000" stroke-width="3" stroke-linecap="butt"/>
<line x1="1734.93" y1="1168.2" x2="1745.93" y2="1168.2" stroke="#000" stroke-width="3" stroke-linecap="butt"/>
<line x1="1734.93" y1="1216.5" x2="1745.93" y2="1216.5" stroke="#000" stroke-width="3" stroke-linecap="butt"/>
<circle cx="1740.43" cy="1192.4" r="3.2" fill="#000"/>
<line x1="1748.2" y1="1157.3" x2="1748.2" y2="1221.3" stroke="#000" stroke-width="3" stroke-linecap="butt"/>
<line x1="1742.7" y1="1157.3" x2="1753.7" y2="1157.3" stroke="#000" stroke-width="3" stroke-linecap="butt"/>
<line x1="1742.7" y1="1221.3" x2="1753.7" y2="1221.3" stroke="#000" stroke-width="3" stroke-linecap="butt"/>
<circle cx="1748.2" cy="1189.6" r="3.2" fill="#000"/>
<line x1="1755.98" y1="1157.2" x2="1755.98" y2="1223.5" stroke="#000" stroke-width="3" stroke-linecap="butt"/>
<line x1="1750.48" y1="1157.2" x2="1761.48" y2="1157.2" stroke="#000" stroke-width="3" stroke-linecap="butt"/>
<line x1="1750.48" y1="1223.5" x2="1761.48" y2="1223.5" stroke="#000" stroke-width="3" stroke-linecap="butt"/>
<circle cx="1755.98" cy="1190.8" r="3.2" fill="#000"/>
<line x1="1763.75" y1="1165" x2="1763.75" y2="1218" stroke="#000" stroke-width="3" stroke-linecap="butt"/>
<line x1="1758.25" y1="1165" x2="1769.25" y2="1165" stroke="#000" stroke-width="3" stroke-linecap="butt"/>
<line x1="1758.25" y1="1218" x2="1769.25" y2="1218" stroke="#000" stroke-width="3" stroke-linecap="butt"/>
<circle cx="1763.75" cy="1191.7" r="3.2" fill="#000"/>
<line x1="1771.53" y1="1165.8" x2="1771.53" y2="1219.7" stroke="#000" stroke-width="3" stroke-linecap="butt"/>
<line x1="1766.03" y1="1165.8" x2="1777.03" y2="1165.8" stroke="#000" stroke-width="3" stroke-linecap="butt"/>
<line x1="1766.03" y1="1219.7" x2="1777.03" y2="1219.7" stroke="#000" stroke-width="3" stroke-linecap="butt"/>
<circle cx="1771.53" cy="1192.5" r="3.2" fill="#000"/>
<line x1="1779.3" y1="1172.7" x2="1779.3" y2="1217.1" stroke="#000" stroke-width="3" stroke-linecap="butt"/>
<line x1="1773.8" y1="1172.7" x2="1784.8" y2="1172.7" stroke="#000" stroke-width="3" stroke-linecap="butt"/>
<line x1="1773.8" y1="1217.1" x2="1784.8" y2="1217.1" stroke="#000" stroke-width="3" stroke-linecap="butt"/>
<circle cx="1779.3" cy="1195.1" r="3.2" fill="#000"/>
<line x1="1787.08" y1="1171" x2="1787.08" y2="1220.5" stroke="#000" stroke-width="3" stroke-linecap="butt"/>
<line x1="1781.58" y1="1171" x2="1792.58" y2="1171" stroke="#000" stroke-width="3" stroke-linecap="butt"/>
<line x1="1781.58" y1="1220.5" x2="1792.58" y2="1220.5" stroke="#000" stroke-width="3" stroke-linecap="butt"/>
<circle cx="1787.08" cy="1196" r="3.2" fill="#000"/>
<line x1="1794.85" y1="1171.9" x2="1794.85" y2="1218.8" stroke="#000" stroke-width="3" stroke-linecap="butt"/>
<line x1="1789.35" y1="1171.9" x2="1800.35" y2="1171.9" stroke="#000" stroke-width="3" stroke-linecap="butt"/>
<line x1="1789.35" y1="1218.8" x2="1800.35" y2="1218.8" stroke="#000" stroke-width="3" stroke-linecap="butt"/>
<circle cx="1794.85" cy="1196" r="3.2" fill="#000"/>
<line x1="1802.62" y1="1179.2" x2="1802.62" y2="1214.1" stroke="#000" stroke-width="3" stroke-linecap="butt"/>
<line x1="1797.12" y1="1179.2" x2="1808.12" y2="1179.2" stroke="#000" stroke-width="3" stroke-linecap="butt"/>
<line x1="1797.12" y1="1214.1" x2="1808.12" y2="1214.1" stroke="#000" stroke-width="3" stroke-linecap="butt"/>
<circle cx="1802.62" cy="1196.8" r="3.2" fill="#000"/>
<line x1="1810.4" y1="1172.7" x2="1810.4" y2="1221.4" stroke="#000" stroke-width="3" stroke-linecap="butt"/>
<line x1="1804.9" y1="1172.7" x2="1815.9" y2="1172.7" stroke="#000" stroke-width="3" stroke-linecap="butt"/>
<line x1="1804.9" y1="1221.4" x2="1815.9" y2="1221.4" stroke="#000" stroke-width="3" stroke-linecap="butt"/>
<circle cx="1810.4" cy="1197.3" r="3.2" fill="#000"/>
<line x1="1818.18" y1="1169.7" x2="1818.18" y2="1220.1" stroke="#000" stroke-width="3" stroke-linecap="butt"/>
<line x1="1812.68" y1="1169.7" x2="1823.68" y2="1169.7" stroke="#000" stroke-width="3" stroke-linecap="butt"/>
<line x1="1812.68" y1="1220.1" x2="1823.68" y2="1220.1" stroke="#000" stroke-width="3" stroke-linecap="butt"/>
<circle cx="1818.18" cy="1195.6" r="3.2" fill="#000"/>
<line x1="1825.95" y1="1165" x2="1825.95" y2="1231.3" stroke="#000" stroke-width="3" stroke-linecap="butt"/>
<line x1="1820.45" y1="1165" x2="1831.45" y2="1165" stroke="#000" stroke-width="3" stroke-linecap="butt"/>
<line x1="1820.45" y1="1231.3" x2="1831.45" y2="1231.3" stroke="#000" stroke-width="3" stroke-linecap="butt"/>
<circle cx="1825.95" cy="1198.1" r="3.2" fill="#000"/>
<line x1="1833.73" y1="1160.7" x2="1833.73" y2="1238.2" stroke="#000" stroke-width="3" stroke-linecap="butt"/>
<line x1="1828.23" y1="1160.7" x2="1839.23" y2="1160.7" stroke="#000" stroke-width="3" stroke-linecap="butt"/>
<line x1="1828.23" y1="1238.2" x2="1839.23" y2="1238.2" stroke="#000" stroke-width="3" stroke-linecap="butt"/>
<circle cx="1833.73" cy="1199.4" r="3.2" fill="#000"/>
<line x1="1841.5" y1="1173.2" x2="1841.5" y2="1226.6" stroke="#000" stroke-width="3" stroke-linecap="butt"/>
<line x1="1836" y1="1173.2" x2="1847" y2="1173.2" stroke="#000" stroke-width="3" stroke-linecap="butt"/>
<line x1="1836" y1="1226.6" x2="1847" y2="1226.6" stroke="#000" stroke-width="3" stroke-linecap="butt"/>
<circle cx="1841.5" cy="1200.3" r="3.2" fill="#000"/>
<line x1="1849.28" y1="1180" x2="1849.28" y2="1223.1" stroke="#000" stroke-width="3" stroke-linecap="butt"/>
<line x1="1843.78" y1="1180" x2="1854.78" y2="1180" stroke="#000" stroke-width="3" stroke-linecap="butt"/>
<line x1="1843.78" y1="1223.1" x2="1854.78" y2="1223.1" stroke="#000" stroke-width="3" stroke-linecap="butt"/>
<circle cx="1849.28" cy="1201.6" r="3.2" fill="#000"/>
<line x1="1857.05" y1="1179.2" x2="1857.05" y2="1229.6" stroke="#000" stroke-width="3" stroke-linecap="butt"/>
<line x1="1851.55" y1="1179.2" x2="1862.55" y2="1179.2" stroke="#000" stroke-width="3" stroke-linecap="butt"/>
<line x1="1851.55" y1="1229.6" x2="1862.55" y2="1229.6" stroke="#000" stroke-width="3" stroke-linecap="butt"/>
<circle cx="1857.05" cy="1204.2" r="3.2" fill="#000"/>
<line x1="1864.83" y1="1175.3" x2="1864.83" y2="1236.5" stroke="#000" stroke-width="3" stroke-linecap="butt"/>
<line x1="1859.33" y1="1175.3" x2="1870.33" y2="1175.3" stroke="#000" stroke-width="3" stroke-linecap="butt"/>
<line x1="1859.33" y1="1236.5" x2="1870.33" y2="1236.5" stroke="#000" stroke-width="3" stroke-linecap="butt"/>
<circle cx="1864.83" cy="1205.9" r="3.2" fill="#000"/>
<line x1="1872.6" y1="1180.9" x2="1872.6" y2="1238.2" stroke="#000" stroke-width="3" stroke-linecap="butt"/>
<line x1="1867.1" y1="1180.9" x2="1878.1" y2="1180.9" stroke="#000" stroke-width="3" stroke-linecap="butt"/>
<line x1="1867.1" y1="1238.2" x2="1878.1" y2="1238.2" stroke="#000" stroke-width="3" stroke-linecap="butt"/>
<circle cx="1872.6" cy="1210.2" r="3.2" fill="#000"/>
<line x1="1880.38" y1="1182.6" x2="1880.38" y2="1239.5" stroke="#000" stroke-width="3" stroke-linecap="butt"/>
<line x1="1874.88" y1="1182.6" x2="1885.88" y2="1182.6" stroke="#000" stroke-width="3" stroke-linecap="butt"/>
<line x1="1874.88" y1="1239.5" x2="1885.88" y2="1239.5" stroke="#000" stroke-width="3" stroke-linecap="butt"/>
<circle cx="1880.38" cy="1211.1" r="3.2" fill="#000"/>
<line x1="1888.15" y1="1177.5" x2="1888.15" y2="1249.8" stroke="#000" stroke-width="3" stroke-linecap="butt"/>
<line x1="1882.65" y1="1177.5" x2="1893.65" y2="1177.5" stroke="#000" stroke-width="3" stroke-linecap="butt"/>
<line x1="1882.65" y1="1249.8" x2="1893.65" y2="1249.8" stroke="#000" stroke-width="3" stroke-linecap="butt"/>
<circle cx="1888.15" cy="1213.2" r="3.2" fill="#000"/>
<line x1="1895.93" y1="1190" x2="1895.93" y2="1235.6" stroke="#000" stroke-width="3" stroke-linecap="butt"/>
<line x1="1890.43" y1="1190" x2="1901.43" y2="1190" stroke="#000" stroke-width="3" stroke-linecap="butt"/>
<line x1="1890.43" y1="1235.6" x2="1901.43" y2="1235.6" stroke="#000" stroke-width="3" stroke-linecap="butt"/>
<circle cx="1895.93" cy="1213.2" r="3.2" fill="#000"/>
<line x1="1903.7" y1="1179.2" x2="1903.7" y2="1249.8" stroke="#000" stroke-width="3" stroke-linecap="butt"/>
<line x1="1898.2" y1="1179.2" x2="1909.2" y2="1179.2" stroke="#000" stroke-width="3" stroke-linecap="butt"/>
<line x1="1898.2" y1="1249.8" x2="1909.2" y2="1249.8" stroke="#000" stroke-width="3" stroke-linecap="butt"/>
<circle cx="1903.7" cy="1214.5" r="3.2" fill="#000"/>
<line x1="1436.7" y1="1044.9" x2="1436.7" y2="1360.2" stroke="#000" stroke-width="3" stroke-linecap="butt"/>
<line x1="1425.7" y1="1358.7" x2="1436.7" y2="1358.7" stroke="#000" stroke-width="3" stroke-linecap="butt"/>
<line x1="1425.7" y1="1254.6" x2="1436.7" y2="1254.6" stroke="#000" stroke-width="3" stroke-linecap="butt"/>
<line x1="1425.7" y1="1150.5" x2="1436.7" y2="1150.5" stroke="#000" stroke-width="3" stroke-linecap="butt"/>
<line x1="1425.7" y1="1046.4" x2="1436.7" y2="1046.4" stroke="#000" stroke-width="3" stroke-linecap="butt"/>
<line x1="1424.4" y1="1358.7" x2="1905" y2="1358.7" stroke="#000" stroke-width="3" stroke-linecap="butt"/>
<line x1="1436.7" y1="1358.7" x2="1436.7" y2="1372" stroke="#000" stroke-width="3" stroke-linecap="butt"/>
<line x1="1592.7" y1="1358.7" x2="1592.7" y2="1372" stroke="#000" stroke-width="3" stroke-linecap="butt"/>
<line x1="1748.3" y1="1358.7" x2="1748.3" y2="1372" stroke="#000" stroke-width="3" stroke-linecap="butt"/>
<line x1="1904" y1="1358.7" x2="1904" y2="1372" stroke="#000" stroke-width="3" stroke-linecap="butt"/>
<line x1="1514.9" y1="1358.7" x2="1514.9" y2="1366" stroke="#000" stroke-width="3" stroke-linecap="butt"/>
<line x1="1670.1" y1="1358.7" x2="1670.1" y2="1366" stroke="#000" stroke-width="3" stroke-linecap="butt"/>
<line x1="1826.5" y1="1358.7" x2="1826.5" y2="1366" stroke="#000" stroke-width="3" stroke-linecap="butt"/>
<text transform="translate(1405.07,1368.90) scale(0.8900,1)" font-size="30.60" fill="#000" font-family="'Liberation Sans', Arial, sans-serif" font-weight="bold">0</text>
<text transform="translate(1404.73,1264.80) scale(0.8900,1)" font-size="30.60" fill="#000" font-family="'Liberation Sans', Arial, sans-serif" font-weight="bold">1</text>
<text transform="translate(1405.07,1160.70) scale(0.8900,1)" font-size="30.60" fill="#000" font-family="'Liberation Sans', Arial, sans-serif" font-weight="bold">2</text>
<text transform="translate(1404.94,1056.60) scale(0.8900,1)" font-size="30.60" fill="#000" font-family="'Liberation Sans', Arial, sans-serif" font-weight="bold">3</text>
<text transform="translate(1429.14,1403.70) scale(0.8900,1)" font-size="30.60" fill="#000" font-family="'Liberation Sans', Arial, sans-serif" font-weight="bold">0</text>
<text transform="translate(1577.65,1403.70) scale(0.8900,1)" font-size="30.60" fill="#000" font-family="'Liberation Sans', Arial, sans-serif" font-weight="bold">20</text>
<text transform="translate(1733.53,1403.70) scale(0.8900,1)" font-size="30.60" fill="#000" font-family="'Liberation Sans', Arial, sans-serif" font-weight="bold">40</text>
<text transform="translate(1888.92,1403.70) scale(0.8900,1)" font-size="30.60" fill="#000" font-family="'Liberation Sans', Arial, sans-serif" font-weight="bold">60</text>
<text transform="translate(1600.10,1447.10) scale(0.9993,1)" font-size="30.00" fill="#000" font-family="'Liberation Sans', Arial, sans-serif" font-weight="bold">Time(min)</text>
<text transform="translate(1385.00,1372.33) rotate(-90) scale(1.0003,1)" font-size="30.00" font-family="'Liberation Sans', Arial, sans-serif" font-weight="bold">Normalized fEPSP slope</text>
<line x1="1589.2" y1="1283" x2="1589.2" y2="1308.7" stroke="#000" stroke-width="2.2" stroke-linecap="butt"/>
<path d="M1582.5,1291 L1589.2,1280.5 L1595.9,1291" fill="none" stroke="#000" stroke-width="2.2"/>
<text transform="translate(1559.62,1333.30) scale(0.9333,1)" font-size="30.00" fill="#000" font-family="'Liberation Sans', Arial, sans-serif" font-weight="bold">TBS</text>
<polyline points="1732.5,1087.9 1696.5,1087.9 1696.5,1023.5 1743,1023.5 1743,1036" fill="none" stroke="#000" stroke-width="3" stroke-linejoin="miter"/>
<circle cx="1743" cy="1047.4" r="2.6" fill="#000"/>
<circle cx="1743" cy="1091" r="2.6" fill="#ff1f14"/>
<text transform="translate(1778.13,1058.70) scale(0.9897,1)" font-size="30.00" fill="#000" font-family="'Liberation Sans', Arial, sans-serif" font-weight="bold">WT</text>
<text transform="translate(1778.81,1102.00) scale(1.0240,1)" font-size="30.00" fill="#000"><tspan font-family="'Liberation Sans', Arial, sans-serif" font-weight="bold" font-style="italic">Aeg-1</tspan><tspan font-family="'Liberation Sans', Arial, sans-serif" font-weight="bold" font-size="18.60" dy="-11.10">fl/fl</tspan><tspan font-family="'Liberation Sans', Arial, sans-serif" font-weight="bold" dy="11.10">Cre</tspan><tspan font-family="'Liberation Sans', Arial, sans-serif" font-weight="bold" font-size="18.60" dy="-11.10">+</tspan></text>
<text transform="translate(1704.61,1024.54) scale(1.0233,1)" font-size="33.80" fill="#000" font-family="'Liberation Sans', Arial, sans-serif" font-weight="bold" letter-spacing="2.60">**</text>
<path d="M1492.5,1824.8 L1492.5,1604.8 L1570,1604.8 L1570,1824.8" fill="none" stroke="#000" stroke-width="3"/>
<path d="M1614.5,1824.8 L1614.5,1625.1 L1692,1625.1 L1692,1824.8" fill="none" stroke="#ff1f14" stroke-width="3"/>
<circle cx="1530.8" cy="1534" r="3.3" fill="#000"/>
<circle cx="1536.2" cy="1538.7" r="3.3" fill="#000"/>
<circle cx="1525.1" cy="1541.6" r="3.3" fill="#000"/>
<circle cx="1530.8" cy="1544.8" r="3.3" fill="#000"/>
<circle cx="1530.8" cy="1551" r="3.3" fill="#000"/>
<circle cx="1541.3" cy="1551" r="3.3" fill="#000"/>
<circle cx="1546.9" cy="1552.3" r="3.3" fill="#000"/>
<circle cx="1514" cy="1555.3" r="3.3" fill="#000"/>
<circle cx="1520" cy="1554" r="3.3" fill="#000"/>
<circle cx="1536.2" cy="1555.3" r="3.3" fill="#000"/>
<circle cx="1525.1" cy="1560.8" r="3.3" fill="#000"/>
<circle cx="1536.2" cy="1560" r="3.3" fill="#000"/>
<circle cx="1520" cy="1564.2" r="3.3" fill="#000"/>
<circle cx="1541.3" cy="1565.1" r="3.3" fill="#000"/>
<circle cx="1536.2" cy="1569.4" r="3.3" fill="#000"/>
<circle cx="1520" cy="1571.5" r="3.3" fill="#000"/>
<circle cx="1514" cy="1574.9" r="3.3" fill="#000"/>
<circle cx="1541.3" cy="1574.9" r="3.3" fill="#000"/>
<circle cx="1525.1" cy="1576.2" r="3.3" fill="#000"/>
<circle cx="1546.9" cy="1578.3" r="3.3" fill="#000"/>
<circle cx="1520" cy="1578.8" r="3.3" fill="#000"/>
<circle cx="1530.8" cy="1579.6" r="3.3" fill="#000"/>
<circle cx="1514" cy="1583.4" r="3.3" fill="#000"/>
<circle cx="1525.1" cy="1583.9" r="3.3" fill="#000"/>
<circle cx="1536.2" cy="1583" r="3.3" fill="#000"/>
<circle cx="1541.3" cy="1583" r="3.3" fill="#000"/>
<circle cx="1520" cy="1585.6" r="3.3" fill="#000"/>
<circle cx="1546.9" cy="1586.4" r="3.3" fill="#000"/>
<circle cx="1530.8" cy="1586.4" r="3.3" fill="#000"/>
<circle cx="1525.1" cy="1589.8" r="3.3" fill="#000"/>
<circle cx="1536.2" cy="1589" r="3.3" fill="#000"/>
<circle cx="1541.3" cy="1592.4" r="3.3" fill="#000"/>
<circle cx="1525.1" cy="1598.4" r="3.3" fill="#000"/>
<circle cx="1536.2" cy="1596.7" r="3.3" fill="#000"/>
<circle cx="1525.1" cy="1605.2" r="3.3" fill="#000"/>
<circle cx="1520" cy="1609" r="3.3" fill="#000"/>
<circle cx="1530.8" cy="1609" r="3.3" fill="#000"/>
<circle cx="1536.2" cy="1606.9" r="3.3" fill="#000"/>
<circle cx="1525.1" cy="1612" r="3.3" fill="#000"/>
<circle cx="1492.7" cy="1660.7" r="3.3" fill="#000"/>
<circle cx="1498.7" cy="1660.7" r="3.3" fill="#000"/>
<circle cx="1504.6" cy="1661.1" r="3.3" fill="#000"/>
<circle cx="1509.3" cy="1665.8" r="3.3" fill="#000"/>
<circle cx="1514.4" cy="1663.7" r="3.3" fill="#000"/>
<circle cx="1520" cy="1659.8" r="3.3" fill="#000"/>
<circle cx="1520" cy="1666.6" r="3.3" fill="#000"/>
<circle cx="1525.1" cy="1663.2" r="3.3" fill="#000"/>
<circle cx="1530.8" cy="1660.7" r="3.3" fill="#000"/>
<circle cx="1530.8" cy="1669.2" r="3.3" fill="#000"/>
<circle cx="1536.2" cy="1662.4" r="3.3" fill="#000"/>
<circle cx="1536.2" cy="1667.5" r="3.3" fill="#000"/>
<circle cx="1541.3" cy="1663.2" r="3.3" fill="#000"/>
<circle cx="1546.4" cy="1664.1" r="3.3" fill="#000"/>
<circle cx="1552.4" cy="1661.1" r="3.3" fill="#000"/>
<circle cx="1557.5" cy="1659" r="3.3" fill="#000"/>
<circle cx="1563.5" cy="1659.8" r="3.3" fill="#000"/>
<circle cx="1567.8" cy="1660.7" r="3.3" fill="#000"/>
<circle cx="1520" cy="1673.5" r="3.3" fill="#000"/>
<circle cx="1541.3" cy="1673.5" r="3.3" fill="#000"/>
<circle cx="1653" cy="1548" r="3.4" fill="#ff1f14"/>
<circle cx="1653" cy="1555.6" r="3.4" fill="#ff1f14"/>
<circle cx="1653" cy="1571.2" r="3.4" fill="#ff1f14"/>
<circle cx="1653" cy="1581.6" r="3.4" fill="#ff1f14"/>
<circle cx="1653" cy="1588" r="3.4" fill="#ff1f14"/>
<circle cx="1659.4" cy="1588.4" r="3.4" fill="#ff1f14"/>
<circle cx="1621.4" cy="1598.8" r="3.4" fill="#ff1f14"/>
<circle cx="1627.8" cy="1597.2" r="3.4" fill="#ff1f14"/>
<circle cx="1640.2" cy="1596.8" r="3.4" fill="#ff1f14"/>
<circle cx="1646.6" cy="1595.2" r="3.4" fill="#ff1f14"/>
<circle cx="1653" cy="1596.8" r="3.4" fill="#ff1f14"/>
<circle cx="1659" cy="1596.8" r="3.4" fill="#ff1f14"/>
<circle cx="1671.3" cy="1598" r="3.4" fill="#ff1f14"/>
<circle cx="1677.7" cy="1597.6" r="3.4" fill="#ff1f14"/>
<circle cx="1684.1" cy="1598.4" r="3.4" fill="#ff1f14"/>
<circle cx="1627.8" cy="1603.5" r="3.4" fill="#ff1f14"/>
<circle cx="1640.2" cy="1603.2" r="3.4" fill="#ff1f14"/>
<circle cx="1646.6" cy="1601.6" r="3.4" fill="#ff1f14"/>
<circle cx="1665.4" cy="1602.4" r="3.4" fill="#ff1f14"/>
<circle cx="1671.3" cy="1604" r="3.4" fill="#ff1f14"/>
<circle cx="1621.4" cy="1607.1" r="3.4" fill="#ff1f14"/>
<circle cx="1633.8" cy="1607.9" r="3.4" fill="#ff1f14"/>
<circle cx="1640.2" cy="1608.7" r="3.4" fill="#ff1f14"/>
<circle cx="1646.6" cy="1607.1" r="3.4" fill="#ff1f14"/>
<circle cx="1653" cy="1608.7" r="3.4" fill="#ff1f14"/>
<circle cx="1659" cy="1605.5" r="3.4" fill="#ff1f14"/>
<circle cx="1665.4" cy="1609.5" r="3.4" fill="#ff1f14"/>
<circle cx="1677.7" cy="1606.3" r="3.4" fill="#ff1f14"/>
<circle cx="1684.1" cy="1608.3" r="3.4" fill="#ff1f14"/>
<circle cx="1627.8" cy="1610" r="3.4" fill="#ff1f14"/>
<circle cx="1633.8" cy="1614.7" r="3.4" fill="#ff1f14"/>
<circle cx="1646.6" cy="1615.1" r="3.4" fill="#ff1f14"/>
<circle cx="1659" cy="1612.3" r="3.4" fill="#ff1f14"/>
<circle cx="1671.3" cy="1611.9" r="3.4" fill="#ff1f14"/>
<circle cx="1677.7" cy="1613.5" r="3.4" fill="#ff1f14"/>
<circle cx="1640.2" cy="1618.3" r="3.4" fill="#ff1f14"/>
<circle cx="1665.4" cy="1618.7" r="3.4" fill="#ff1f14"/>
<circle cx="1646.6" cy="1623.5" r="3.4" fill="#ff1f14"/>
<circle cx="1653" cy="1622.3" r="3.4" fill="#ff1f14"/>
<circle cx="1659.4" cy="1623.5" r="3.4" fill="#ff1f14"/>
<circle cx="1653" cy="1627.9" r="3.4" fill="#ff1f14"/>
<circle cx="1615" cy="1665.5" r="3.4" fill="#ff1f14"/>
<circle cx="1621.4" cy="1669.1" r="3.4" fill="#ff1f14"/>
<circle cx="1627.8" cy="1669.1" r="3.4" fill="#ff1f14"/>
<circle cx="1633.8" cy="1662.3" r="3.4" fill="#ff1f14"/>
<circle cx="1633.8" cy="1669.1" r="3.4" fill="#ff1f14"/>
<circle cx="1640.2" cy="1667.5" r="3.4" fill="#ff1f14"/>
<circle cx="1640.2" cy="1675.5" r="3.4" fill="#ff1f14"/>
<circle cx="1646.6" cy="1666.7" r="3.4" fill="#ff1f14"/>
<circle cx="1653" cy="1663.9" r="3.4" fill="#ff1f14"/>
<circle cx="1653" cy="1671.1" r="3.4" fill="#ff1f14"/>
<circle cx="1659.4" cy="1664.7" r="3.4" fill="#ff1f14"/>
<circle cx="1659.4" cy="1671.1" r="3.4" fill="#ff1f14"/>
<circle cx="1665.4" cy="1659.9" r="3.4" fill="#ff1f14"/>
<circle cx="1665.4" cy="1666.3" r="3.4" fill="#ff1f14"/>
<circle cx="1665.4" cy="1675.9" r="3.4" fill="#ff1f14"/>
<circle cx="1671.3" cy="1661.5" r="3.4" fill="#ff1f14"/>
<circle cx="1671.3" cy="1667.9" r="3.4" fill="#ff1f14"/>
<circle cx="1684.1" cy="1669.5" r="3.4" fill="#ff1f14"/>
<circle cx="1690.5" cy="1661.1" r="3.4" fill="#ff1f14"/>
<circle cx="1690.5" cy="1668.7" r="3.4" fill="#ff1f14"/>
<line x1="1531.1" y1="1557.5" x2="1531.1" y2="1649.7" stroke="#000" stroke-width="3" stroke-linecap="butt"/>
<line x1="1511.1" y1="1557.5" x2="1551.1" y2="1557.5" stroke="#000" stroke-width="3.2" stroke-linecap="butt"/>
<line x1="1511.1" y1="1649.7" x2="1551.1" y2="1649.7" stroke="#000" stroke-width="3.2" stroke-linecap="butt"/>
<line x1="1653" y1="1590.4" x2="1653" y2="1657.1" stroke="#ff1f14" stroke-width="3" stroke-linecap="butt"/>
<line x1="1633" y1="1590.4" x2="1673" y2="1590.4" stroke="#ff1f14" stroke-width="3.2" stroke-linecap="butt"/>
<line x1="1633" y1="1657.1" x2="1673" y2="1657.1" stroke="#ff1f14" stroke-width="3.2" stroke-linecap="butt"/>
<line x1="1449.9" y1="1516.5" x2="1449.9" y2="1826.3" stroke="#000" stroke-width="3" stroke-linecap="butt"/>
<line x1="1438.9" y1="1824.8" x2="1449.9" y2="1824.8" stroke="#000" stroke-width="3" stroke-linecap="butt"/>
<line x1="1438.9" y1="1748.1" x2="1449.9" y2="1748.1" stroke="#000" stroke-width="3" stroke-linecap="butt"/>
<line x1="1438.9" y1="1671.4" x2="1449.9" y2="1671.4" stroke="#000" stroke-width="3" stroke-linecap="butt"/>
<line x1="1438.9" y1="1594.7" x2="1449.9" y2="1594.7" stroke="#000" stroke-width="3" stroke-linecap="butt"/>
<line x1="1438.9" y1="1518" x2="1449.9" y2="1518" stroke="#000" stroke-width="3" stroke-linecap="butt"/>
<line x1="1436.8" y1="1824.8" x2="1735.5" y2="1824.8" stroke="#000" stroke-width="3" stroke-linecap="butt"/>
<line x1="1531.1" y1="1824.8" x2="1531.1" y2="1836.5" stroke="#000" stroke-width="3" stroke-linecap="butt"/>
<line x1="1652.3" y1="1824.8" x2="1652.3" y2="1836.5" stroke="#000" stroke-width="3" stroke-linecap="butt"/>
<text transform="translate(1391.83,1835.00) scale(0.8900,1)" font-size="30.60" fill="#000" font-family="'Liberation Sans', Arial, sans-serif" font-weight="bold">0.0</text>
<text transform="translate(1391.49,1758.30) scale(0.8900,1)" font-size="30.60" fill="#000" font-family="'Liberation Sans', Arial, sans-serif" font-weight="bold">0.5</text>
<text transform="translate(1391.83,1681.60) scale(0.8900,1)" font-size="30.60" fill="#000" font-family="'Liberation Sans', Arial, sans-serif" font-weight="bold">1.0</text>
<text transform="translate(1391.49,1604.90) scale(0.8900,1)" font-size="30.60" fill="#000" font-family="'Liberation Sans', Arial, sans-serif" font-weight="bold">1.5</text>
<text transform="translate(1391.83,1528.20) scale(0.8900,1)" font-size="30.60" fill="#000" font-family="'Liberation Sans', Arial, sans-serif" font-weight="bold">2.0</text>
<line x1="1527" y1="1511.6" x2="1650.6" y2="1511.6" stroke="#000" stroke-width="5" stroke-linecap="butt"/>
<text stroke="#000" stroke-width="1" stroke-linejoin="round" transform="translate(1570.92,1507.46) scale(0.9224,1)" font-size="31.60" fill="#000" font-family="'DejaVu Sans', sans-serif" font-weight="bold" letter-spacing="3.50">**</text>
<text transform="translate(1373.80,1845.41) rotate(-90) scale(0.9904,1)" font-size="30.00" font-family="'Liberation Sans', Arial, sans-serif" font-weight="bold">EPSP slope fold changes</text>
<text transform="translate(1508.32,1866.60) scale(1.0222,1)" font-size="30.00" fill="#000" font-family="'Liberation Sans', Arial, sans-serif" font-weight="bold">WT</text>
<text transform="translate(1564.62,1866.60) scale(1.0257,1)" font-size="30.00" fill="#000"><tspan font-family="'Liberation Sans', Arial, sans-serif" font-weight="bold" font-style="italic">Aeg-1</tspan><tspan font-family="'Liberation Sans', Arial, sans-serif" font-weight="bold" font-size="18.60" dy="-11.10">fl/fl</tspan><tspan font-family="'Liberation Sans', Arial, sans-serif" font-weight="bold" dy="11.10">Cre</tspan><tspan font-family="'Liberation Sans', Arial, sans-serif" font-weight="bold" font-size="18.60" dy="-11.10">+</tspan></text></svg></body></html>
